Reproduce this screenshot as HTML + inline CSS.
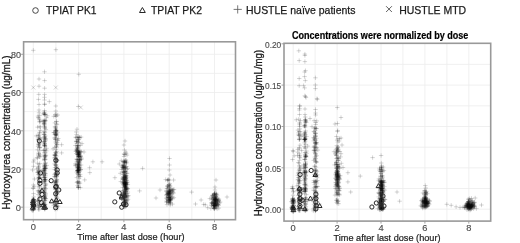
<!DOCTYPE html>
<html><head><meta charset="utf-8"><style>
html,body{margin:0;padding:0;background:#fff;width:520px;height:243px;overflow:hidden}
svg{display:block}
text{font-family:"Liberation Sans",Arial,sans-serif;fill:#1a1a1a}
.lg text{font-size:11px;stroke:#1a1a1a;stroke-width:0.25px}
.tk{font-size:9.3px;fill:#4d4d4d;stroke:#4d4d4d;stroke-width:0.15px}
.at{font-size:9.4px;stroke:#1a1a1a;stroke-width:0.2px}
.yt{font-size:10.3px;stroke-width:0.3px}
.ti{font-size:10.2px;font-weight:bold;fill:#000;stroke:#000;stroke-width:0.2px}
</style></head><body>
<svg width="520" height="243" viewBox="0 0 520 243">
<defs><filter id="b" x="-5%" y="-5%" width="110%" height="110%"><feGaussianBlur stdDeviation="0.45"/></filter></defs>
<rect width="520" height="243" fill="#fff"/>
<g stroke="#ececec" stroke-width="0.8" fill="none">
<path d="M33.3 41.8V219.7"/>
<path d="M55.9 41.8V219.7"/>
<path d="M78.6 41.8V219.7"/>
<path d="M101.2 41.8V219.7"/>
<path d="M123.9 41.8V219.7"/>
<path d="M146.6 41.8V219.7"/>
<path d="M169.2 41.8V219.7"/>
<path d="M191.8 41.8V219.7"/>
<path d="M214.5 41.8V219.7"/>
<path d="M23.6 207.2H235.5"/>
<path d="M23.6 188.1H235.5"/>
<path d="M23.6 169H235.5"/>
<path d="M23.6 149.9H235.5"/>
<path d="M23.6 130.8H235.5"/>
<path d="M23.6 111.6H235.5"/>
<path d="M23.6 92.5H235.5"/>
<path d="M23.6 73.4H235.5"/>
<path d="M23.6 54.3H235.5"/>
<path d="M293.2 43.3V221.1"/>
<path d="M315.1 43.3V221.1"/>
<path d="M337.1 43.3V221.1"/>
<path d="M359 43.3V221.1"/>
<path d="M381 43.3V221.1"/>
<path d="M402.9 43.3V221.1"/>
<path d="M424.9 43.3V221.1"/>
<path d="M446.9 43.3V221.1"/>
<path d="M468.8 43.3V221.1"/>
<path d="M284 209.2H490.7"/>
<path d="M284 188.5H490.7"/>
<path d="M284 167.8H490.7"/>
<path d="M284 147.2H490.7"/>
<path d="M284 126.5H490.7"/>
<path d="M284 105.8H490.7"/>
<path d="M284 85.1H490.7"/>
<path d="M284 64.4H490.7"/>
</g>
<g filter="url(#b)">
<g stroke="#000" stroke-opacity="0.22" stroke-width="0.75" fill="none">
<path d="M31 203.2h4.4M33.2 201v4.4"/>
<path d="M30.9 206h4.4M33.1 203.8v4.4"/>
<path d="M32.1 199.8h4.4M34.3 197.6v4.4"/>
<path d="M31.2 199.9h4.4M33.4 197.7v4.4"/>
<path d="M31.6 204.5h4.4M33.8 202.3v4.4"/>
<path d="M31.6 207.2h4.4M33.8 205v4.4"/>
<path d="M31.3 206.5h4.4M33.5 204.3v4.4"/>
<path d="M31.1 210.2h4.4M33.3 208v4.4"/>
<path d="M30.8 200.9h4.4M33 198.7v4.4"/>
<path d="M32.8 201.3h4.4M35 199.1v4.4"/>
<path d="M30.9 207.3h4.4M33.1 205.1v4.4"/>
<path d="M31 199.8h4.4M33.2 197.6v4.4"/>
<path d="M30.8 207.8h4.4M33 205.6v4.4"/>
<path d="M31.7 204.9h4.4M33.9 202.7v4.4"/>
<path d="M31.1 209.3h4.4M33.3 207.1v4.4"/>
<path d="M32.4 205.8h4.4M34.6 203.6v4.4"/>
<path d="M31.3 208.5h4.4M33.5 206.3v4.4"/>
<path d="M31 204.4h4.4M33.2 202.2v4.4"/>
<path d="M31.8 201h4.4M34 198.8v4.4"/>
<path d="M31.5 208.9h4.4M33.7 206.7v4.4"/>
<path d="M30.9 210.4h4.4M33.1 208.2v4.4"/>
<path d="M30.5 206.5h4.4M32.7 204.3v4.4"/>
<path d="M29.6 209.9h4.4M31.8 207.7v4.4"/>
<path d="M31.3 199.8h4.4M33.5 197.6v4.4"/>
<path d="M31.5 207.4h4.4M33.7 205.2v4.4"/>
<path d="M30.4 204h4.4M32.6 201.8v4.4"/>
<path d="M31.2 199.3h4.4M33.4 197.1v4.4"/>
<path d="M31.5 199.8h4.4M33.7 197.6v4.4"/>
<path d="M30.3 200.7h4.4M32.5 198.5v4.4"/>
<path d="M31.7 200h4.4M33.9 197.8v4.4"/>
<path d="M31.9 206.1h4.4M34.1 203.9v4.4"/>
<path d="M30.2 202.6h4.4M32.4 200.4v4.4"/>
<path d="M31.7 203.7h4.4M33.9 201.5v4.4"/>
<path d="M31 201.3h4.4M33.2 199.1v4.4"/>
<path d="M30.8 202h4.4M33 199.8v4.4"/>
<path d="M30.9 199.1h4.4M33.1 196.9v4.4"/>
<path d="M32.6 203.8h4.4M34.8 201.6v4.4"/>
<path d="M30.7 205.7h4.4M32.9 203.5v4.4"/>
<path d="M31.8 207.8h4.4M34 205.6v4.4"/>
<path d="M30.1 210.4h4.4M32.3 208.2v4.4"/>
<path d="M31.7 204.1h4.4M33.9 201.9v4.4"/>
<path d="M31.5 199.8h4.4M33.7 197.6v4.4"/>
<path d="M31 187.9h4.4M33.2 185.7v4.4"/>
<path d="M31.2 185h4.4M33.4 182.8v4.4"/>
<path d="M32.1 186.4h4.4M34.3 184.2v4.4"/>
<path d="M31.3 193.6h4.4M33.5 191.4v4.4"/>
<path d="M30.9 188.5h4.4M33.1 186.3v4.4"/>
<path d="M31.5 196.9h4.4M33.7 194.7v4.4"/>
<path d="M31.3 166.3h4.4M33.5 164.1v4.4"/>
<path d="M31.2 162h4.4M33.4 159.8v4.4"/>
<path d="M32.3 179h4.4M34.5 176.8v4.4"/>
<path d="M31.1 50.3h4.4M33.3 48.1v4.4"/>
<path d="M53.7 49.7h4.4M55.9 47.5v4.4"/>
<path d="M30.3 170h4.4M32.5 167.8v4.4"/>
<path d="M31.8 160h4.4M34 157.8v4.4"/>
<path d="M36.8 79h4.4M39 76.8v4.4"/>
<path d="M36.8 86.2h4.4M39 84v4.4"/>
<path d="M36.6 94.4h4.4M38.8 92.2v4.4"/>
<path d="M36.3 99.4h4.4M38.5 97.2v4.4"/>
<path d="M36.8 104.5h4.4M39 102.3v4.4"/>
<path d="M36.8 110h4.4M39 107.8v4.4"/>
<path d="M42.3 71.8h4.4M44.5 69.6v4.4"/>
<path d="M42.4 80.6h4.4M44.6 78.4v4.4"/>
<path d="M42.4 88.2h4.4M44.6 86v4.4"/>
<path d="M42.4 94.4h4.4M44.6 92.2v4.4"/>
<path d="M42.3 97.3h4.4M44.5 95.1v4.4"/>
<path d="M42.3 100h4.4M44.5 97.8v4.4"/>
<path d="M42.4 104h4.4M44.6 101.8v4.4"/>
<path d="M42.4 104.5h4.4M44.6 102.3v4.4"/>
<path d="M42.3 110.5h4.4M44.5 108.3v4.4"/>
<path d="M47.1 101.6h4.4M49.3 99.4v4.4"/>
<path d="M53.6 106h4.4M55.8 103.8v4.4"/>
<path d="M53.6 111h4.4M55.8 108.8v4.4"/>
<path d="M37 126.8h4.4M39.2 124.6v4.4"/>
<path d="M35.4 127.2h4.4M37.6 125v4.4"/>
<path d="M36.3 136.2h4.4M38.5 134v4.4"/>
<path d="M37.2 119.3h4.4M39.4 117.1v4.4"/>
<path d="M38.3 126.9h4.4M40.5 124.7v4.4"/>
<path d="M37.3 121.2h4.4M39.5 119v4.4"/>
<path d="M34.1 135.9h4.4M36.3 133.7v4.4"/>
<path d="M37 134.9h4.4M39.2 132.7v4.4"/>
<path d="M37.4 122h4.4M39.6 119.8v4.4"/>
<path d="M36.8 112.8h4.4M39 110.6v4.4"/>
<path d="M37.6 138.8h4.4M39.8 136.6v4.4"/>
<path d="M37.7 138.2h4.4M39.9 136v4.4"/>
<path d="M36.7 118.2h4.4M38.9 116v4.4"/>
<path d="M36 117.5h4.4M38.2 115.3v4.4"/>
<path d="M36 135.5h4.4M38.2 133.3v4.4"/>
<path d="M38.1 130.3h4.4M40.3 128.1v4.4"/>
<path d="M37.5 137.5h4.4M39.7 135.3v4.4"/>
<path d="M37.2 133h4.4M39.4 130.8v4.4"/>
<path d="M38.4 121.3h4.4M40.6 119.1v4.4"/>
<path d="M35.8 139.2h4.4M38 137v4.4"/>
<path d="M37.5 132.3h4.4M39.7 130.1v4.4"/>
<path d="M37.5 115.6h4.4M39.7 113.4v4.4"/>
<path d="M35.8 116.1h4.4M38 113.9v4.4"/>
<path d="M36.1 139.4h4.4M38.3 137.2v4.4"/>
<path d="M37.3 143.9h4.4M39.5 141.7v4.4"/>
<path d="M34.5 169.1h4.4M36.7 166.9v4.4"/>
<path d="M36.4 153h4.4M38.6 150.8v4.4"/>
<path d="M36.8 164.8h4.4M39 162.6v4.4"/>
<path d="M37.6 147.2h4.4M39.8 145v4.4"/>
<path d="M37.5 147.8h4.4M39.7 145.6v4.4"/>
<path d="M37.6 150.6h4.4M39.8 148.4v4.4"/>
<path d="M34.8 157.5h4.4M37 155.3v4.4"/>
<path d="M37.9 155h4.4M40.1 152.8v4.4"/>
<path d="M36.5 155.7h4.4M38.7 153.5v4.4"/>
<path d="M37 140.1h4.4M39.2 137.9v4.4"/>
<path d="M36.7 145.2h4.4M38.9 143v4.4"/>
<path d="M35.5 149.8h4.4M37.7 147.6v4.4"/>
<path d="M37.8 156.7h4.4M40 154.5v4.4"/>
<path d="M37.2 147.5h4.4M39.4 145.3v4.4"/>
<path d="M35.2 163.2h4.4M37.4 161v4.4"/>
<path d="M36.5 167.4h4.4M38.7 165.2v4.4"/>
<path d="M35.3 158.4h4.4M37.5 156.2v4.4"/>
<path d="M36.7 153.6h4.4M38.9 151.4v4.4"/>
<path d="M36.2 154.3h4.4M38.4 152.1v4.4"/>
<path d="M35.8 168.3h4.4M38 166.1v4.4"/>
<path d="M37.1 156.8h4.4M39.3 154.6v4.4"/>
<path d="M36.6 143.6h4.4M38.8 141.4v4.4"/>
<path d="M37.5 142.2h4.4M39.7 140v4.4"/>
<path d="M37.5 163.5h4.4M39.7 161.3v4.4"/>
<path d="M36.5 144.6h4.4M38.7 142.4v4.4"/>
<path d="M36.3 166.5h4.4M38.5 164.3v4.4"/>
<path d="M35.9 146.6h4.4M38.1 144.4v4.4"/>
<path d="M37.5 169.7h4.4M39.7 167.5v4.4"/>
<path d="M36.3 144.8h4.4M38.5 142.6v4.4"/>
<path d="M36.8 175.9h4.4M39 173.7v4.4"/>
<path d="M36.3 191.7h4.4M38.5 189.5v4.4"/>
<path d="M36.6 170.5h4.4M38.8 168.3v4.4"/>
<path d="M39.5 188.7h4.4M41.7 186.5v4.4"/>
<path d="M37.9 193.7h4.4M40.1 191.5v4.4"/>
<path d="M37.6 173.1h4.4M39.8 170.9v4.4"/>
<path d="M37 178.1h4.4M39.2 175.9v4.4"/>
<path d="M37.1 182.7h4.4M39.3 180.5v4.4"/>
<path d="M36.1 174.5h4.4M38.3 172.3v4.4"/>
<path d="M37.1 187.1h4.4M39.3 184.9v4.4"/>
<path d="M36.9 190.6h4.4M39.1 188.4v4.4"/>
<path d="M35.6 172.2h4.4M37.8 170v4.4"/>
<path d="M35.5 172.5h4.4M37.7 170.3v4.4"/>
<path d="M35.9 172h4.4M38.1 169.8v4.4"/>
<path d="M37.1 186.6h4.4M39.3 184.4v4.4"/>
<path d="M36.4 178h4.4M38.6 175.8v4.4"/>
<path d="M36.7 173.3h4.4M38.9 171.1v4.4"/>
<path d="M36.6 171.5h4.4M38.8 169.3v4.4"/>
<path d="M37.2 192.8h4.4M39.4 190.6v4.4"/>
<path d="M36.7 185h4.4M38.9 182.8v4.4"/>
<path d="M36.9 177.5h4.4M39.1 175.3v4.4"/>
<path d="M37.2 192h4.4M39.4 189.8v4.4"/>
<path d="M37.3 198h4.4M39.5 195.8v4.4"/>
<path d="M35.9 194.6h4.4M38.1 192.4v4.4"/>
<path d="M36.9 181.8h4.4M39.1 179.6v4.4"/>
<path d="M35.8 190.6h4.4M38 188.4v4.4"/>
<path d="M38.4 191.2h4.4M40.6 189v4.4"/>
<path d="M37 182.1h4.4M39.2 179.9v4.4"/>
<path d="M37 172.1h4.4M39.2 169.9v4.4"/>
<path d="M37.6 177.7h4.4M39.8 175.5v4.4"/>
<path d="M37.8 196.1h4.4M40 193.9v4.4"/>
<path d="M36.7 178.5h4.4M38.9 176.3v4.4"/>
<path d="M37.3 174.7h4.4M39.5 172.5v4.4"/>
<path d="M38 177.9h4.4M40.2 175.7v4.4"/>
<path d="M36.6 177.3h4.4M38.8 175.1v4.4"/>
<path d="M37.3 203.1h4.4M39.5 200.9v4.4"/>
<path d="M36.8 204.7h4.4M39 202.5v4.4"/>
<path d="M37.6 202h4.4M39.8 199.8v4.4"/>
<path d="M36.8 200.9h4.4M39 198.7v4.4"/>
<path d="M36.7 200.4h4.4M38.9 198.2v4.4"/>
<path d="M37.5 205.9h4.4M39.7 203.7v4.4"/>
<path d="M36.4 207.5h4.4M38.6 205.3v4.4"/>
<path d="M35.8 203.9h4.4M38 201.7v4.4"/>
<path d="M36.7 209.8h4.4M38.9 207.6v4.4"/>
<path d="M35.4 200.4h4.4M37.6 198.2v4.4"/>
<path d="M36.6 208.9h4.4M38.8 206.7v4.4"/>
<path d="M35 201.4h4.4M37.2 199.2v4.4"/>
<path d="M37.4 205h4.4M39.6 202.8v4.4"/>
<path d="M35 205.8h4.4M37.2 203.6v4.4"/>
<path d="M36.8 206.8h4.4M39 204.6v4.4"/>
<path d="M42.6 114.4h4.4M44.8 112.2v4.4"/>
<path d="M41.1 113.9h4.4M43.3 111.7v4.4"/>
<path d="M41.9 123.3h4.4M44.1 121.1v4.4"/>
<path d="M42.7 120.8h4.4M44.9 118.6v4.4"/>
<path d="M40.8 121.1h4.4M43 118.9v4.4"/>
<path d="M42.5 123.9h4.4M44.7 121.7v4.4"/>
<path d="M42.1 113.3h4.4M44.3 111.1v4.4"/>
<path d="M42.4 125.1h4.4M44.6 122.9v4.4"/>
<path d="M41.1 120.9h4.4M43.3 118.7v4.4"/>
<path d="M42.7 120.6h4.4M44.9 118.4v4.4"/>
<path d="M41.8 123.6h4.4M44 121.4v4.4"/>
<path d="M42.5 114.7h4.4M44.7 112.5v4.4"/>
<path d="M42.1 122.2h4.4M44.3 120v4.4"/>
<path d="M42.1 113.1h4.4M44.3 110.9v4.4"/>
<path d="M41.8 124.2h4.4M44 122v4.4"/>
<path d="M42.3 121.3h4.4M44.5 119.1v4.4"/>
<path d="M42.6 128.1h4.4M44.8 125.9v4.4"/>
<path d="M43.7 129.6h4.4M45.9 127.4v4.4"/>
<path d="M42.6 126.8h4.4M44.8 124.6v4.4"/>
<path d="M42.8 120.1h4.4M45 117.9v4.4"/>
<path d="M45.1 115.8h4.4M47.3 113.6v4.4"/>
<path d="M43.1 114.6h4.4M45.3 112.4v4.4"/>
<path d="M42.3 126.8h4.4M44.5 124.6v4.4"/>
<path d="M42.8 128h4.4M45 125.8v4.4"/>
<path d="M43.6 120.8h4.4M45.8 118.6v4.4"/>
<path d="M42.1 112.1h4.4M44.3 109.9v4.4"/>
<path d="M42.6 114.5h4.4M44.8 112.3v4.4"/>
<path d="M44.3 117.7h4.4M46.5 115.5v4.4"/>
<path d="M42.5 163.6h4.4M44.7 161.4v4.4"/>
<path d="M43.2 167.1h4.4M45.4 164.9v4.4"/>
<path d="M42.3 144.9h4.4M44.5 142.7v4.4"/>
<path d="M41.8 170h4.4M44 167.8v4.4"/>
<path d="M42.9 141h4.4M45.1 138.8v4.4"/>
<path d="M41.9 134.1h4.4M44.1 131.9v4.4"/>
<path d="M43.6 140h4.4M45.8 137.8v4.4"/>
<path d="M41.6 150.4h4.4M43.8 148.2v4.4"/>
<path d="M44.5 165.4h4.4M46.7 163.2v4.4"/>
<path d="M43.8 155.2h4.4M46 153v4.4"/>
<path d="M42.3 158.8h4.4M44.5 156.6v4.4"/>
<path d="M42.5 159.3h4.4M44.7 157.1v4.4"/>
<path d="M41.8 141.4h4.4M44 139.2v4.4"/>
<path d="M42 167.1h4.4M44.2 164.9v4.4"/>
<path d="M42.7 141.9h4.4M44.9 139.7v4.4"/>
<path d="M42.3 169.1h4.4M44.5 166.9v4.4"/>
<path d="M42.1 152.3h4.4M44.3 150.1v4.4"/>
<path d="M42.8 136.7h4.4M45 134.5v4.4"/>
<path d="M43.5 149.9h4.4M45.7 147.7v4.4"/>
<path d="M41.9 166.3h4.4M44.1 164.1v4.4"/>
<path d="M42.6 137.7h4.4M44.8 135.5v4.4"/>
<path d="M42.5 143.7h4.4M44.7 141.5v4.4"/>
<path d="M43.3 152.8h4.4M45.5 150.6v4.4"/>
<path d="M42 160h4.4M44.2 157.8v4.4"/>
<path d="M42.8 145.1h4.4M45 142.9v4.4"/>
<path d="M42.8 132.5h4.4M45 130.3v4.4"/>
<path d="M42.4 150.1h4.4M44.6 147.9v4.4"/>
<path d="M42.5 164.5h4.4M44.7 162.3v4.4"/>
<path d="M42.9 146h4.4M45.1 143.8v4.4"/>
<path d="M42.7 168.2h4.4M44.9 166v4.4"/>
<path d="M42.3 131.3h4.4M44.5 129.1v4.4"/>
<path d="M42.5 165.8h4.4M44.7 163.6v4.4"/>
<path d="M42.5 145.7h4.4M44.7 143.5v4.4"/>
<path d="M43.3 163h4.4M45.5 160.8v4.4"/>
<path d="M42.4 134.4h4.4M44.6 132.2v4.4"/>
<path d="M44.1 150.9h4.4M46.3 148.7v4.4"/>
<path d="M41.9 155.9h4.4M44.1 153.7v4.4"/>
<path d="M44.4 148.3h4.4M46.6 146.1v4.4"/>
<path d="M43 139.3h4.4M45.2 137.1v4.4"/>
<path d="M42.8 155.8h4.4M45 153.6v4.4"/>
<path d="M43.1 155.5h4.4M45.3 153.3v4.4"/>
<path d="M41.8 134.5h4.4M44 132.3v4.4"/>
<path d="M42.4 145.5h4.4M44.6 143.3v4.4"/>
<path d="M42.3 154h4.4M44.5 151.8v4.4"/>
<path d="M43.7 168.4h4.4M45.9 166.2v4.4"/>
<path d="M42.5 165.4h4.4M44.7 163.2v4.4"/>
<path d="M43.3 168.4h4.4M45.5 166.2v4.4"/>
<path d="M41.8 142.3h4.4M44 140.1v4.4"/>
<path d="M42.5 146.8h4.4M44.7 144.6v4.4"/>
<path d="M42.5 156.7h4.4M44.7 154.5v4.4"/>
<path d="M42.6 143.5h4.4M44.8 141.3v4.4"/>
<path d="M42.7 157.3h4.4M44.9 155.1v4.4"/>
<path d="M41.7 150.2h4.4M43.9 148v4.4"/>
<path d="M42.7 168.8h4.4M44.9 166.6v4.4"/>
<path d="M41.8 138.9h4.4M44 136.7v4.4"/>
<path d="M41.8 141.8h4.4M44 139.6v4.4"/>
<path d="M42.5 138.9h4.4M44.7 136.7v4.4"/>
<path d="M43.2 156.6h4.4M45.4 154.4v4.4"/>
<path d="M43.4 138.5h4.4M45.6 136.3v4.4"/>
<path d="M43 135.7h4.4M45.2 133.5v4.4"/>
<path d="M42.9 165.9h4.4M45.1 163.7v4.4"/>
<path d="M43.4 159.3h4.4M45.6 157.1v4.4"/>
<path d="M42.1 137.4h4.4M44.3 135.2v4.4"/>
<path d="M42.3 159.9h4.4M44.5 157.7v4.4"/>
<path d="M42.1 145h4.4M44.3 142.8v4.4"/>
<path d="M42.4 136.8h4.4M44.6 134.6v4.4"/>
<path d="M43 168.2h4.4M45.2 166v4.4"/>
<path d="M41.9 168.6h4.4M44.1 166.4v4.4"/>
<path d="M43.2 162.9h4.4M45.4 160.7v4.4"/>
<path d="M41.7 132h4.4M43.9 129.8v4.4"/>
<path d="M43.3 175.8h4.4M45.5 173.6v4.4"/>
<path d="M41.7 196.9h4.4M43.9 194.7v4.4"/>
<path d="M43 193h4.4M45.2 190.8v4.4"/>
<path d="M42.8 171h4.4M45 168.8v4.4"/>
<path d="M42.1 192.4h4.4M44.3 190.2v4.4"/>
<path d="M43.2 180.2h4.4M45.4 178v4.4"/>
<path d="M42.1 177.9h4.4M44.3 175.7v4.4"/>
<path d="M43.3 179.5h4.4M45.5 177.3v4.4"/>
<path d="M42.5 197.5h4.4M44.7 195.3v4.4"/>
<path d="M42.6 198.3h4.4M44.8 196.1v4.4"/>
<path d="M43.7 198.7h4.4M45.9 196.5v4.4"/>
<path d="M42 181.6h4.4M44.2 179.4v4.4"/>
<path d="M42.7 197.8h4.4M44.9 195.6v4.4"/>
<path d="M43.3 194.1h4.4M45.5 191.9v4.4"/>
<path d="M41.7 188.2h4.4M43.9 186v4.4"/>
<path d="M42.5 179.6h4.4M44.7 177.4v4.4"/>
<path d="M42.1 175.9h4.4M44.3 173.7v4.4"/>
<path d="M43.1 177.4h4.4M45.3 175.2v4.4"/>
<path d="M42.8 179.8h4.4M45 177.6v4.4"/>
<path d="M42.5 196.5h4.4M44.7 194.3v4.4"/>
<path d="M42.7 172.9h4.4M44.9 170.7v4.4"/>
<path d="M42.6 191.3h4.4M44.8 189.1v4.4"/>
<path d="M43.6 188.6h4.4M45.8 186.4v4.4"/>
<path d="M42.2 192.4h4.4M44.4 190.2v4.4"/>
<path d="M42.3 195.2h4.4M44.5 193v4.4"/>
<path d="M42.5 187h4.4M44.7 184.8v4.4"/>
<path d="M42.2 177.4h4.4M44.4 175.2v4.4"/>
<path d="M41.6 174.6h4.4M43.8 172.4v4.4"/>
<path d="M42 181.9h4.4M44.2 179.7v4.4"/>
<path d="M42.8 185.2h4.4M45 183v4.4"/>
<path d="M41.8 199.7h4.4M44 197.5v4.4"/>
<path d="M43.8 184.2h4.4M46 182v4.4"/>
<path d="M41.6 171.2h4.4M43.8 169v4.4"/>
<path d="M43.2 173.6h4.4M45.4 171.4v4.4"/>
<path d="M42.4 197.9h4.4M44.6 195.7v4.4"/>
<path d="M42.4 196h4.4M44.6 193.8v4.4"/>
<path d="M43.4 198.4h4.4M45.6 196.2v4.4"/>
<path d="M42.7 187.9h4.4M44.9 185.7v4.4"/>
<path d="M43 174.2h4.4M45.2 172v4.4"/>
<path d="M42.1 177.6h4.4M44.3 175.4v4.4"/>
<path d="M42.2 170.3h4.4M44.4 168.1v4.4"/>
<path d="M42.4 190.3h4.4M44.6 188.1v4.4"/>
<path d="M43.2 193.9h4.4M45.4 191.7v4.4"/>
<path d="M42 171.9h4.4M44.2 169.7v4.4"/>
<path d="M42.9 189.2h4.4M45.1 187v4.4"/>
<path d="M41.7 174.9h4.4M43.9 172.7v4.4"/>
<path d="M43 179.2h4.4M45.2 177v4.4"/>
<path d="M41.8 179.4h4.4M44 177.2v4.4"/>
<path d="M43.4 195.9h4.4M45.6 193.7v4.4"/>
<path d="M42.5 180.9h4.4M44.7 178.7v4.4"/>
<path d="M41.8 170.2h4.4M44 168v4.4"/>
<path d="M40.6 182.7h4.4M42.8 180.5v4.4"/>
<path d="M43.1 183.8h4.4M45.3 181.6v4.4"/>
<path d="M41 170.4h4.4M43.2 168.2v4.4"/>
<path d="M40.6 172.7h4.4M42.8 170.5v4.4"/>
<path d="M43 181.1h4.4M45.2 178.9v4.4"/>
<path d="M43.2 185.6h4.4M45.4 183.4v4.4"/>
<path d="M42.9 173.3h4.4M45.1 171.1v4.4"/>
<path d="M41.3 175.9h4.4M43.5 173.7v4.4"/>
<path d="M42.1 198.3h4.4M44.3 196.1v4.4"/>
<path d="M42.5 209.3h4.4M44.7 207.1v4.4"/>
<path d="M42.8 209h4.4M45 206.8v4.4"/>
<path d="M42.2 207.9h4.4M44.4 205.7v4.4"/>
<path d="M42.8 204h4.4M45 201.8v4.4"/>
<path d="M42.2 202.2h4.4M44.4 200v4.4"/>
<path d="M42.8 205.2h4.4M45 203v4.4"/>
<path d="M43.1 207.2h4.4M45.3 205v4.4"/>
<path d="M42.5 200.4h4.4M44.7 198.2v4.4"/>
<path d="M42.4 208.4h4.4M44.6 206.2v4.4"/>
<path d="M41.8 206h4.4M44 203.8v4.4"/>
<path d="M41.8 204.2h4.4M44 202v4.4"/>
<path d="M41.4 204.3h4.4M43.6 202.1v4.4"/>
<path d="M42.9 200.2h4.4M45.1 198v4.4"/>
<path d="M42.6 204.9h4.4M44.8 202.7v4.4"/>
<path d="M41.6 204.6h4.4M43.8 202.4v4.4"/>
<path d="M42.9 204.7h4.4M45.1 202.5v4.4"/>
<path d="M42.9 200.9h4.4M45.1 198.7v4.4"/>
<path d="M42.4 205.1h4.4M44.6 202.9v4.4"/>
<path d="M42.2 207.3h4.4M44.4 205.1v4.4"/>
<path d="M42 205.1h4.4M44.2 202.9v4.4"/>
<path d="M53.8 129.2h4.4M56 127v4.4"/>
<path d="M53.6 127.6h4.4M55.8 125.4v4.4"/>
<path d="M51.6 116.3h4.4M53.8 114.1v4.4"/>
<path d="M54.4 121.4h4.4M56.6 119.2v4.4"/>
<path d="M53.4 126.4h4.4M55.6 124.2v4.4"/>
<path d="M53.8 114.1h4.4M56 111.9v4.4"/>
<path d="M53.5 128.2h4.4M55.7 126v4.4"/>
<path d="M52.7 126.9h4.4M54.9 124.7v4.4"/>
<path d="M53.8 116.5h4.4M56 114.3v4.4"/>
<path d="M54.1 121.6h4.4M56.3 119.4v4.4"/>
<path d="M54 115.7h4.4M56.2 113.5v4.4"/>
<path d="M54.8 124.6h4.4M57 122.4v4.4"/>
<path d="M55.6 115h4.4M57.8 112.8v4.4"/>
<path d="M54.2 123.8h4.4M56.4 121.6v4.4"/>
<path d="M52.7 122.9h4.4M54.9 120.7v4.4"/>
<path d="M53 114.8h4.4M55.2 112.6v4.4"/>
<path d="M53.4 161.9h4.4M55.6 159.7v4.4"/>
<path d="M52.5 169.6h4.4M54.7 167.4v4.4"/>
<path d="M54.5 147.7h4.4M56.7 145.5v4.4"/>
<path d="M54 159.7h4.4M56.2 157.5v4.4"/>
<path d="M53 155.6h4.4M55.2 153.4v4.4"/>
<path d="M53.8 153.4h4.4M56 151.2v4.4"/>
<path d="M53.8 131.4h4.4M56 129.2v4.4"/>
<path d="M52.7 154.6h4.4M54.9 152.4v4.4"/>
<path d="M53.7 135.3h4.4M55.9 133.1v4.4"/>
<path d="M54.3 156.1h4.4M56.5 153.9v4.4"/>
<path d="M53.8 134.3h4.4M56 132.1v4.4"/>
<path d="M53.1 139h4.4M55.3 136.8v4.4"/>
<path d="M53.6 155h4.4M55.8 152.8v4.4"/>
<path d="M53.8 135.4h4.4M56 133.2v4.4"/>
<path d="M54.5 133.8h4.4M56.7 131.6v4.4"/>
<path d="M53 164.9h4.4M55.2 162.7v4.4"/>
<path d="M54.3 130.5h4.4M56.5 128.3v4.4"/>
<path d="M53.5 152.5h4.4M55.7 150.3v4.4"/>
<path d="M52.8 167.5h4.4M55 165.3v4.4"/>
<path d="M55.2 139.9h4.4M57.4 137.7v4.4"/>
<path d="M54 146.2h4.4M56.2 144v4.4"/>
<path d="M55.3 132.3h4.4M57.5 130.1v4.4"/>
<path d="M53.8 167.6h4.4M56 165.4v4.4"/>
<path d="M52.1 138h4.4M54.3 135.8v4.4"/>
<path d="M53.8 162.5h4.4M56 160.3v4.4"/>
<path d="M54.8 142.4h4.4M57 140.2v4.4"/>
<path d="M54.6 161.3h4.4M56.8 159.1v4.4"/>
<path d="M53.8 130.3h4.4M56 128.1v4.4"/>
<path d="M53.2 159.7h4.4M55.4 157.5v4.4"/>
<path d="M53.8 139h4.4M56 136.8v4.4"/>
<path d="M54.1 143.4h4.4M56.3 141.2v4.4"/>
<path d="M53.6 157.8h4.4M55.8 155.6v4.4"/>
<path d="M53.4 152.2h4.4M55.6 150v4.4"/>
<path d="M53.6 161.5h4.4M55.8 159.3v4.4"/>
<path d="M54.5 168.6h4.4M56.7 166.4v4.4"/>
<path d="M53.8 165.2h4.4M56 163v4.4"/>
<path d="M54.7 159.8h4.4M56.9 157.6v4.4"/>
<path d="M54.1 159.8h4.4M56.3 157.6v4.4"/>
<path d="M53.1 139.6h4.4M55.3 137.4v4.4"/>
<path d="M52.1 155.2h4.4M54.3 153v4.4"/>
<path d="M50.9 148.8h4.4M53.1 146.6v4.4"/>
<path d="M52 157.9h4.4M54.2 155.7v4.4"/>
<path d="M54.1 152.8h4.4M56.3 150.6v4.4"/>
<path d="M56.1 138.5h4.4M58.3 136.3v4.4"/>
<path d="M54.3 135.8h4.4M56.5 133.6v4.4"/>
<path d="M53.4 134.3h4.4M55.6 132.1v4.4"/>
<path d="M54 131.1h4.4M56.2 128.9v4.4"/>
<path d="M53.2 157.7h4.4M55.4 155.5v4.4"/>
<path d="M51.9 132.6h4.4M54.1 130.4v4.4"/>
<path d="M54.9 144.5h4.4M57.1 142.3v4.4"/>
<path d="M51.5 132.6h4.4M53.7 130.4v4.4"/>
<path d="M54.4 166.6h4.4M56.6 164.4v4.4"/>
<path d="M54 134.5h4.4M56.2 132.3v4.4"/>
<path d="M52.3 163.9h4.4M54.5 161.7v4.4"/>
<path d="M53.1 155.3h4.4M55.3 153.1v4.4"/>
<path d="M53.8 134h4.4M56 131.8v4.4"/>
<path d="M53.5 142.8h4.4M55.7 140.6v4.4"/>
<path d="M53.6 130.8h4.4M55.8 128.6v4.4"/>
<path d="M54.6 144.7h4.4M56.8 142.5v4.4"/>
<path d="M54.8 168.6h4.4M57 166.4v4.4"/>
<path d="M53.2 131.2h4.4M55.4 129v4.4"/>
<path d="M52.7 147.5h4.4M54.9 145.3v4.4"/>
<path d="M54.4 151.5h4.4M56.6 149.3v4.4"/>
<path d="M53.9 164.5h4.4M56.1 162.3v4.4"/>
<path d="M53.5 130.1h4.4M55.7 127.9v4.4"/>
<path d="M55.2 160.5h4.4M57.4 158.3v4.4"/>
<path d="M53.8 149.7h4.4M56 147.5v4.4"/>
<path d="M53.3 137.4h4.4M55.5 135.2v4.4"/>
<path d="M55.7 140.4h4.4M57.9 138.2v4.4"/>
<path d="M53.6 141.3h4.4M55.8 139.1v4.4"/>
<path d="M52.5 134.4h4.4M54.7 132.2v4.4"/>
<path d="M53.1 133.2h4.4M55.3 131v4.4"/>
<path d="M53 155.1h4.4M55.2 152.9v4.4"/>
<path d="M54 146.1h4.4M56.2 143.9v4.4"/>
<path d="M53.7 165.5h4.4M55.9 163.3v4.4"/>
<path d="M54.3 176.2h4.4M56.5 174v4.4"/>
<path d="M53 181.4h4.4M55.2 179.2v4.4"/>
<path d="M53 177h4.4M55.2 174.8v4.4"/>
<path d="M53.4 192.6h4.4M55.6 190.4v4.4"/>
<path d="M54.3 180.5h4.4M56.5 178.3v4.4"/>
<path d="M55.7 189.9h4.4M57.9 187.7v4.4"/>
<path d="M53.9 175.1h4.4M56.1 172.9v4.4"/>
<path d="M53.1 173.8h4.4M55.3 171.6v4.4"/>
<path d="M54 196.6h4.4M56.2 194.4v4.4"/>
<path d="M54.7 191.1h4.4M56.9 188.9v4.4"/>
<path d="M53.8 174.6h4.4M56 172.4v4.4"/>
<path d="M54.2 185.7h4.4M56.4 183.5v4.4"/>
<path d="M54.6 179.8h4.4M56.8 177.6v4.4"/>
<path d="M53.5 173.1h4.4M55.7 170.9v4.4"/>
<path d="M54.7 173h4.4M56.9 170.8v4.4"/>
<path d="M53.7 192h4.4M55.9 189.8v4.4"/>
<path d="M54.4 175.9h4.4M56.6 173.7v4.4"/>
<path d="M54 181.7h4.4M56.2 179.5v4.4"/>
<path d="M53.3 182h4.4M55.5 179.8v4.4"/>
<path d="M53.2 189h4.4M55.4 186.8v4.4"/>
<path d="M52.2 174.3h4.4M54.4 172.1v4.4"/>
<path d="M54.3 197.2h4.4M56.5 195v4.4"/>
<path d="M53 187.2h4.4M55.2 185v4.4"/>
<path d="M54.2 191.7h4.4M56.4 189.5v4.4"/>
<path d="M54.9 193.2h4.4M57.1 191v4.4"/>
<path d="M53.2 189.2h4.4M55.4 187v4.4"/>
<path d="M54.8 179.4h4.4M57 177.2v4.4"/>
<path d="M54.5 193.5h4.4M56.7 191.3v4.4"/>
<path d="M53.3 188.9h4.4M55.5 186.7v4.4"/>
<path d="M54.1 188.6h4.4M56.3 186.4v4.4"/>
<path d="M54.5 190.3h4.4M56.7 188.1v4.4"/>
<path d="M54.5 193.3h4.4M56.7 191.1v4.4"/>
<path d="M55.3 184.7h4.4M57.5 182.5v4.4"/>
<path d="M54.2 174.8h4.4M56.4 172.6v4.4"/>
<path d="M55.1 198.2h4.4M57.3 196v4.4"/>
<path d="M54.7 186.2h4.4M56.9 184v4.4"/>
<path d="M54.5 185.4h4.4M56.7 183.2v4.4"/>
<path d="M52.5 182.3h4.4M54.7 180.1v4.4"/>
<path d="M52.2 176.3h4.4M54.4 174.1v4.4"/>
<path d="M55.1 173.7h4.4M57.3 171.5v4.4"/>
<path d="M53.7 180.7h4.4M55.9 178.5v4.4"/>
<path d="M54.3 170.4h4.4M56.5 168.2v4.4"/>
<path d="M53.2 182.6h4.4M55.4 180.4v4.4"/>
<path d="M54.6 176.7h4.4M56.8 174.5v4.4"/>
<path d="M54.2 198.2h4.4M56.4 196v4.4"/>
<path d="M54.7 181.8h4.4M56.9 179.6v4.4"/>
<path d="M54.4 173.9h4.4M56.6 171.7v4.4"/>
<path d="M52.2 184.1h4.4M54.4 181.9v4.4"/>
<path d="M52.8 176.8h4.4M55 174.6v4.4"/>
<path d="M55.2 194.6h4.4M57.4 192.4v4.4"/>
<path d="M53.6 184h4.4M55.8 181.8v4.4"/>
<path d="M53.7 195h4.4M55.9 192.8v4.4"/>
<path d="M53.5 195.5h4.4M55.7 193.3v4.4"/>
<path d="M54.1 182.8h4.4M56.3 180.6v4.4"/>
<path d="M53.6 170.1h4.4M55.8 167.9v4.4"/>
<path d="M54.2 203h4.4M56.4 200.8v4.4"/>
<path d="M53.2 204.3h4.4M55.4 202.1v4.4"/>
<path d="M52.8 209.3h4.4M55 207.1v4.4"/>
<path d="M55.5 200.6h4.4M57.7 198.4v4.4"/>
<path d="M52.6 201.4h4.4M54.8 199.2v4.4"/>
<path d="M55 206.3h4.4M57.2 204.1v4.4"/>
<path d="M53.9 206.6h4.4M56.1 204.4v4.4"/>
<path d="M53.9 201h4.4M56.1 198.8v4.4"/>
<path d="M54.7 203.5h4.4M56.9 201.3v4.4"/>
<path d="M55 209h4.4M57.2 206.8v4.4"/>
<path d="M56 206.1h4.4M58.2 203.9v4.4"/>
<path d="M54.3 206.7h4.4M56.5 204.5v4.4"/>
<path d="M51.6 202h4.4M53.8 199.8v4.4"/>
<path d="M51.5 205.3h4.4M53.7 203.1v4.4"/>
<path d="M54.2 205.6h4.4M56.4 203.4v4.4"/>
<path d="M53.6 202.3h4.4M55.8 200.1v4.4"/>
<path d="M53.8 204.7h4.4M56 202.5v4.4"/>
<path d="M52.8 204.9h4.4M55 202.7v4.4"/>
<path d="M53.2 200.1h4.4M55.4 197.9v4.4"/>
<path d="M52.6 204.7h4.4M54.8 202.5v4.4"/>
<path d="M74 132h4.4M76.2 129.8v4.4"/>
<path d="M75.7 136.7h4.4M77.9 134.5v4.4"/>
<path d="M74.8 129.2h4.4M77 127v4.4"/>
<path d="M74.4 134.5h4.4M76.6 132.3v4.4"/>
<path d="M79.8 143.6h4.4M82 141.4v4.4"/>
<path d="M76.1 148.7h4.4M78.3 146.5v4.4"/>
<path d="M74.4 141.4h4.4M76.6 139.2v4.4"/>
<path d="M73.9 141.8h4.4M76.1 139.6v4.4"/>
<path d="M75.9 139.7h4.4M78.1 137.5v4.4"/>
<path d="M76.8 142.5h4.4M79 140.3v4.4"/>
<path d="M75.3 147.8h4.4M77.5 145.6v4.4"/>
<path d="M74.7 143.5h4.4M76.9 141.3v4.4"/>
<path d="M76.1 145.5h4.4M78.3 143.3v4.4"/>
<path d="M75.7 141.3h4.4M77.9 139.1v4.4"/>
<path d="M78.1 145.3h4.4M80.3 143.1v4.4"/>
<path d="M77.6 137.5h4.4M79.8 135.3v4.4"/>
<path d="M75.1 137.6h4.4M77.3 135.4v4.4"/>
<path d="M77 137.1h4.4M79.2 134.9v4.4"/>
<path d="M75.4 145.6h4.4M77.6 143.4v4.4"/>
<path d="M74.8 148.8h4.4M77 146.6v4.4"/>
<path d="M75 146.1h4.4M77.2 143.9v4.4"/>
<path d="M76 145.9h4.4M78.2 143.7v4.4"/>
<path d="M75.7 146.9h4.4M77.9 144.7v4.4"/>
<path d="M76.5 139.4h4.4M78.7 137.2v4.4"/>
<path d="M73.2 145.5h4.4M75.4 143.3v4.4"/>
<path d="M75.3 147.7h4.4M77.5 145.5v4.4"/>
<path d="M75.9 140.9h4.4M78.1 138.7v4.4"/>
<path d="M74.2 141.1h4.4M76.4 138.9v4.4"/>
<path d="M73.8 137.7h4.4M76 135.5v4.4"/>
<path d="M76.6 137.5h4.4M78.8 135.3v4.4"/>
<path d="M74.6 148.9h4.4M76.8 146.7v4.4"/>
<path d="M73.5 137.2h4.4M75.7 135v4.4"/>
<path d="M74.5 149.8h4.4M76.7 147.6v4.4"/>
<path d="M76 142.4h4.4M78.2 140.2v4.4"/>
<path d="M76 139h4.4M78.2 136.8v4.4"/>
<path d="M78.9 137.1h4.4M81.1 134.9v4.4"/>
<path d="M78.8 152.2h4.4M81 150v4.4"/>
<path d="M76.2 153.2h4.4M78.4 151v4.4"/>
<path d="M75.9 168.3h4.4M78.1 166.1v4.4"/>
<path d="M75.7 151.3h4.4M77.9 149.1v4.4"/>
<path d="M75.2 168.2h4.4M77.4 166v4.4"/>
<path d="M73.1 165.7h4.4M75.3 163.5v4.4"/>
<path d="M77.1 156.4h4.4M79.3 154.2v4.4"/>
<path d="M77.2 167.9h4.4M79.4 165.7v4.4"/>
<path d="M76.4 170.4h4.4M78.6 168.2v4.4"/>
<path d="M77.7 157.8h4.4M79.9 155.6v4.4"/>
<path d="M77.3 162.2h4.4M79.5 160v4.4"/>
<path d="M74.3 159.2h4.4M76.5 157v4.4"/>
<path d="M77.1 153.6h4.4M79.3 151.4v4.4"/>
<path d="M75.3 159.1h4.4M77.5 156.9v4.4"/>
<path d="M75.2 159.6h4.4M77.4 157.4v4.4"/>
<path d="M75.2 173.6h4.4M77.4 171.4v4.4"/>
<path d="M75.8 151.5h4.4M78 149.3v4.4"/>
<path d="M75.4 167.6h4.4M77.6 165.4v4.4"/>
<path d="M78 174.4h4.4M80.2 172.2v4.4"/>
<path d="M73.7 165h4.4M75.9 162.8v4.4"/>
<path d="M77.6 159.4h4.4M79.8 157.2v4.4"/>
<path d="M76.7 165h4.4M78.9 162.8v4.4"/>
<path d="M75.8 150h4.4M78 147.8v4.4"/>
<path d="M77.5 160.6h4.4M79.7 158.4v4.4"/>
<path d="M73.6 151.1h4.4M75.8 148.9v4.4"/>
<path d="M75.3 170.3h4.4M77.5 168.1v4.4"/>
<path d="M75.8 171.3h4.4M78 169.1v4.4"/>
<path d="M76 167.1h4.4M78.2 164.9v4.4"/>
<path d="M76.8 163.8h4.4M79 161.6v4.4"/>
<path d="M77.2 155h4.4M79.4 152.8v4.4"/>
<path d="M75.9 165.2h4.4M78.1 163v4.4"/>
<path d="M76.3 161.6h4.4M78.5 159.4v4.4"/>
<path d="M78.6 169.8h4.4M80.8 167.6v4.4"/>
<path d="M76.4 152.2h4.4M78.6 150v4.4"/>
<path d="M75.3 164.5h4.4M77.5 162.3v4.4"/>
<path d="M74.5 172.1h4.4M76.7 169.9v4.4"/>
<path d="M76.4 154.7h4.4M78.6 152.5v4.4"/>
<path d="M75.1 154.5h4.4M77.3 152.3v4.4"/>
<path d="M77.7 160.1h4.4M79.9 157.9v4.4"/>
<path d="M76.9 153.7h4.4M79.1 151.5v4.4"/>
<path d="M76.3 152.7h4.4M78.5 150.5v4.4"/>
<path d="M75.8 169.7h4.4M78 167.5v4.4"/>
<path d="M76 163h4.4M78.2 160.8v4.4"/>
<path d="M77.4 150.8h4.4M79.6 148.6v4.4"/>
<path d="M75.8 164.2h4.4M78 162v4.4"/>
<path d="M78.6 169.5h4.4M80.8 167.3v4.4"/>
<path d="M75.5 170.5h4.4M77.7 168.3v4.4"/>
<path d="M76.4 156.3h4.4M78.6 154.1v4.4"/>
<path d="M76.7 152.1h4.4M78.9 149.9v4.4"/>
<path d="M73 163.9h4.4M75.2 161.7v4.4"/>
<path d="M76.7 172.7h4.4M78.9 170.5v4.4"/>
<path d="M78.9 165h4.4M81.1 162.8v4.4"/>
<path d="M78.7 156.4h4.4M80.9 154.2v4.4"/>
<path d="M75.6 166h4.4M77.8 163.8v4.4"/>
<path d="M75.8 161.2h4.4M78 159v4.4"/>
<path d="M76.4 174.1h4.4M78.6 171.9v4.4"/>
<path d="M76.7 156.4h4.4M78.9 154.2v4.4"/>
<path d="M76.5 172.6h4.4M78.7 170.4v4.4"/>
<path d="M75.9 169.7h4.4M78.1 167.5v4.4"/>
<path d="M77 166.2h4.4M79.2 164v4.4"/>
<path d="M76.6 168.9h4.4M78.8 166.7v4.4"/>
<path d="M75.5 166.9h4.4M77.7 164.7v4.4"/>
<path d="M75 152.6h4.4M77.2 150.4v4.4"/>
<path d="M75.9 156.4h4.4M78.1 154.2v4.4"/>
<path d="M76.3 156h4.4M78.5 153.8v4.4"/>
<path d="M76.2 166.9h4.4M78.4 164.7v4.4"/>
<path d="M75.4 150.9h4.4M77.6 148.7v4.4"/>
<path d="M78.3 155.5h4.4M80.5 153.3v4.4"/>
<path d="M74.1 153.5h4.4M76.3 151.3v4.4"/>
<path d="M77.4 152.4h4.4M79.6 150.2v4.4"/>
<path d="M74.7 161.3h4.4M76.9 159.1v4.4"/>
<path d="M75.8 170.6h4.4M78 168.4v4.4"/>
<path d="M76.1 155.5h4.4M78.3 153.3v4.4"/>
<path d="M78 167.8h4.4M80.2 165.6v4.4"/>
<path d="M78.5 156.7h4.4M80.7 154.5v4.4"/>
<path d="M76.6 153.9h4.4M78.8 151.7v4.4"/>
<path d="M75.2 154.2h4.4M77.4 152v4.4"/>
<path d="M79.2 158h4.4M81.4 155.8v4.4"/>
<path d="M78.9 151.4h4.4M81.1 149.2v4.4"/>
<path d="M75.8 166.7h4.4M78 164.5v4.4"/>
<path d="M76.4 156.4h4.4M78.6 154.2v4.4"/>
<path d="M79.5 159.1h4.4M81.7 156.9v4.4"/>
<path d="M76.3 152.4h4.4M78.5 150.2v4.4"/>
<path d="M76.2 172.4h4.4M78.4 170.2v4.4"/>
<path d="M75.8 174.5h4.4M78 172.3v4.4"/>
<path d="M76.4 170.2h4.4M78.6 168v4.4"/>
<path d="M76.4 170.8h4.4M78.6 168.6v4.4"/>
<path d="M77.1 154.6h4.4M79.3 152.4v4.4"/>
<path d="M76.1 164.3h4.4M78.3 162.1v4.4"/>
<path d="M76.1 154.5h4.4M78.3 152.3v4.4"/>
<path d="M75.9 152h4.4M78.1 149.8v4.4"/>
<path d="M76.2 165.2h4.4M78.4 163v4.4"/>
<path d="M77.2 165.3h4.4M79.4 163.1v4.4"/>
<path d="M76.5 170.3h4.4M78.7 168.1v4.4"/>
<path d="M76.8 168.3h4.4M79 166.1v4.4"/>
<path d="M76.5 168h4.4M78.7 165.8v4.4"/>
<path d="M75.1 171h4.4M77.3 168.8v4.4"/>
<path d="M76.9 162.3h4.4M79.1 160.1v4.4"/>
<path d="M75.9 171.8h4.4M78.1 169.6v4.4"/>
<path d="M75.7 154.7h4.4M77.9 152.5v4.4"/>
<path d="M76.9 159.3h4.4M79.1 157.1v4.4"/>
<path d="M74.7 150.1h4.4M76.9 147.9v4.4"/>
<path d="M76.9 153h4.4M79.1 150.8v4.4"/>
<path d="M75.3 170.4h4.4M77.5 168.2v4.4"/>
<path d="M78.3 159.5h4.4M80.5 157.3v4.4"/>
<path d="M77.9 151.5h4.4M80.1 149.3v4.4"/>
<path d="M75.8 162.8h4.4M78 160.6v4.4"/>
<path d="M76.7 163.4h4.4M78.9 161.2v4.4"/>
<path d="M76.2 154.6h4.4M78.4 152.4v4.4"/>
<path d="M76.9 156.3h4.4M79.1 154.1v4.4"/>
<path d="M76.4 167.5h4.4M78.6 165.3v4.4"/>
<path d="M74.8 150.4h4.4M77 148.2v4.4"/>
<path d="M76 167.6h4.4M78.2 165.4v4.4"/>
<path d="M77 171.7h4.4M79.2 169.5v4.4"/>
<path d="M76.5 162.3h4.4M78.7 160.1v4.4"/>
<path d="M76 157h4.4M78.2 154.8v4.4"/>
<path d="M76.7 164.8h4.4M78.9 162.6v4.4"/>
<path d="M76.3 153.7h4.4M78.5 151.5v4.4"/>
<path d="M75.5 170.7h4.4M77.7 168.5v4.4"/>
<path d="M77.2 159.7h4.4M79.4 157.5v4.4"/>
<path d="M74.9 159.9h4.4M77.1 157.7v4.4"/>
<path d="M76.4 169.4h4.4M78.6 167.2v4.4"/>
<path d="M77.6 160.9h4.4M79.8 158.7v4.4"/>
<path d="M77.4 170.1h4.4M79.6 167.9v4.4"/>
<path d="M73.8 151.3h4.4M76 149.1v4.4"/>
<path d="M76.3 187.5h4.4M78.5 185.3v4.4"/>
<path d="M77.8 183.2h4.4M80 181v4.4"/>
<path d="M75.7 181.9h4.4M77.9 179.7v4.4"/>
<path d="M76.6 175.3h4.4M78.8 173.1v4.4"/>
<path d="M78.1 187.6h4.4M80.3 185.4v4.4"/>
<path d="M75.5 185.5h4.4M77.7 183.3v4.4"/>
<path d="M76 186.5h4.4M78.2 184.3v4.4"/>
<path d="M75.9 183.8h4.4M78.1 181.6v4.4"/>
<path d="M75.5 182h4.4M77.7 179.8v4.4"/>
<path d="M75.6 181.8h4.4M77.8 179.6v4.4"/>
<path d="M76 187.4h4.4M78.2 185.2v4.4"/>
<path d="M78.2 176.6h4.4M80.4 174.4v4.4"/>
<path d="M76.1 187.4h4.4M78.3 185.2v4.4"/>
<path d="M77 181.9h4.4M79.2 179.7v4.4"/>
<path d="M76.1 176.6h4.4M78.3 174.4v4.4"/>
<path d="M76.9 178.7h4.4M79.1 176.5v4.4"/>
<path d="M77.3 176.1h4.4M79.5 173.9v4.4"/>
<path d="M74.7 182.4h4.4M76.9 180.2v4.4"/>
<path d="M74.6 177.6h4.4M76.8 175.4v4.4"/>
<path d="M76.7 183h4.4M78.9 180.8v4.4"/>
<path d="M76.6 74.3h4.4M78.8 72.1v4.4"/>
<path d="M76.1 106.5h4.4M78.3 104.3v4.4"/>
<path d="M59.4 144.7h4.4M61.6 142.5v4.4"/>
<path d="M59.4 152.9h4.4M61.6 150.7v4.4"/>
<path d="M81.8 152h4.4M84 149.8v4.4"/>
<path d="M90.7 161.8h4.4M92.9 159.6v4.4"/>
<path d="M87.4 167.7h4.4M89.6 165.5v4.4"/>
<path d="M87.6 172.6h4.4M89.8 170.4v4.4"/>
<path d="M99.9 161.8h4.4M102.1 159.6v4.4"/>
<path d="M82.5 179.9h4.4M84.7 177.7v4.4"/>
<path d="M122.8 141h4.4M125 138.8v4.4"/>
<path d="M121.8 145h4.4M124 142.8v4.4"/>
<path d="M122.3 150h4.4M124.5 147.8v4.4"/>
<path d="M121.8 154h4.4M124 151.8v4.4"/>
<path d="M122.9 154.5h4.4M125.1 152.3v4.4"/>
<path d="M124.8 155.1h4.4M127 152.9v4.4"/>
<path d="M123.6 152.1h4.4M125.8 149.9v4.4"/>
<path d="M121.8 156.5h4.4M124 154.3v4.4"/>
<path d="M122 154.3h4.4M124.2 152.1v4.4"/>
<path d="M124 153.3h4.4M126.2 151.1v4.4"/>
<path d="M124.4 173.1h4.4M126.6 170.9v4.4"/>
<path d="M123.4 166.6h4.4M125.6 164.4v4.4"/>
<path d="M123.9 161.6h4.4M126.1 159.4v4.4"/>
<path d="M122.5 162.3h4.4M124.7 160.1v4.4"/>
<path d="M120.3 165.3h4.4M122.5 163.1v4.4"/>
<path d="M120.6 172.3h4.4M122.8 170.1v4.4"/>
<path d="M122.9 171.1h4.4M125.1 168.9v4.4"/>
<path d="M120.9 171.8h4.4M123.1 169.6v4.4"/>
<path d="M122.8 173.7h4.4M125 171.5v4.4"/>
<path d="M122.7 171.5h4.4M124.9 169.3v4.4"/>
<path d="M121.2 167.5h4.4M123.4 165.3v4.4"/>
<path d="M122 171.8h4.4M124.2 169.6v4.4"/>
<path d="M121 169.1h4.4M123.2 166.9v4.4"/>
<path d="M123 170.8h4.4M125.2 168.6v4.4"/>
<path d="M121.7 165.9h4.4M123.9 163.7v4.4"/>
<path d="M123.8 171.8h4.4M126 169.6v4.4"/>
<path d="M123.4 167.5h4.4M125.6 165.3v4.4"/>
<path d="M124.1 162.2h4.4M126.3 160v4.4"/>
<path d="M123.3 168.7h4.4M125.5 166.5v4.4"/>
<path d="M122.1 172.7h4.4M124.3 170.5v4.4"/>
<path d="M121.4 174.4h4.4M123.6 172.2v4.4"/>
<path d="M123.5 160.2h4.4M125.7 158v4.4"/>
<path d="M125.4 168.5h4.4M127.6 166.3v4.4"/>
<path d="M121.4 168.1h4.4M123.6 165.9v4.4"/>
<path d="M122.1 167.8h4.4M124.3 165.6v4.4"/>
<path d="M121.2 165.4h4.4M123.4 163.2v4.4"/>
<path d="M121.9 165.3h4.4M124.1 163.1v4.4"/>
<path d="M120.9 161.5h4.4M123.1 159.3v4.4"/>
<path d="M119.7 166h4.4M121.9 163.8v4.4"/>
<path d="M121.2 174.5h4.4M123.4 172.3v4.4"/>
<path d="M124.4 166.6h4.4M126.6 164.4v4.4"/>
<path d="M122.8 168h4.4M125 165.8v4.4"/>
<path d="M124.1 162.6h4.4M126.3 160.4v4.4"/>
<path d="M122.6 167.7h4.4M124.8 165.5v4.4"/>
<path d="M125 173.4h4.4M127.2 171.2v4.4"/>
<path d="M118.1 173.3h4.4M120.3 171.1v4.4"/>
<path d="M122 162.3h4.4M124.2 160.1v4.4"/>
<path d="M122.7 162.8h4.4M124.9 160.6v4.4"/>
<path d="M119.5 169.5h4.4M121.7 167.3v4.4"/>
<path d="M124.6 169.5h4.4M126.8 167.3v4.4"/>
<path d="M121.9 166.2h4.4M124.1 164v4.4"/>
<path d="M123.8 160.1h4.4M126 157.9v4.4"/>
<path d="M122.2 172.6h4.4M124.4 170.4v4.4"/>
<path d="M121.8 167.5h4.4M124 165.3v4.4"/>
<path d="M117.1 164h4.4M119.3 161.8v4.4"/>
<path d="M121.7 168.6h4.4M123.9 166.4v4.4"/>
<path d="M122.8 161.8h4.4M125 159.6v4.4"/>
<path d="M122.5 161.5h4.4M124.7 159.3v4.4"/>
<path d="M120.5 167.8h4.4M122.7 165.6v4.4"/>
<path d="M122 160.9h4.4M124.2 158.7v4.4"/>
<path d="M122.7 171.6h4.4M124.9 169.4v4.4"/>
<path d="M122.2 162.5h4.4M124.4 160.3v4.4"/>
<path d="M121.4 161.5h4.4M123.6 159.3v4.4"/>
<path d="M122 166.7h4.4M124.2 164.5v4.4"/>
<path d="M119.1 160.8h4.4M121.3 158.6v4.4"/>
<path d="M120.7 166.6h4.4M122.9 164.4v4.4"/>
<path d="M124 163.7h4.4M126.2 161.5v4.4"/>
<path d="M121.4 164.7h4.4M123.6 162.5v4.4"/>
<path d="M121.4 172.2h4.4M123.6 170v4.4"/>
<path d="M120.2 167.4h4.4M122.4 165.2v4.4"/>
<path d="M122.6 181.1h4.4M124.8 178.9v4.4"/>
<path d="M121.6 182.7h4.4M123.8 180.5v4.4"/>
<path d="M122.8 187.1h4.4M125 184.9v4.4"/>
<path d="M123.2 184h4.4M125.4 181.8v4.4"/>
<path d="M122.5 199.3h4.4M124.7 197.1v4.4"/>
<path d="M122.5 188.3h4.4M124.7 186.1v4.4"/>
<path d="M123.7 185.1h4.4M125.9 182.9v4.4"/>
<path d="M123.7 183.8h4.4M125.9 181.6v4.4"/>
<path d="M122.8 179.8h4.4M125 177.6v4.4"/>
<path d="M123 191.6h4.4M125.2 189.4v4.4"/>
<path d="M123.9 178.9h4.4M126.1 176.7v4.4"/>
<path d="M123.1 195.9h4.4M125.3 193.7v4.4"/>
<path d="M123.1 186.1h4.4M125.3 183.9v4.4"/>
<path d="M121.9 183.8h4.4M124.1 181.6v4.4"/>
<path d="M123.9 184.4h4.4M126.1 182.2v4.4"/>
<path d="M124.5 187.6h4.4M126.7 185.4v4.4"/>
<path d="M122.7 186.3h4.4M124.9 184.1v4.4"/>
<path d="M121.5 197.5h4.4M123.7 195.3v4.4"/>
<path d="M122.4 184.2h4.4M124.6 182v4.4"/>
<path d="M122.5 196.8h4.4M124.7 194.6v4.4"/>
<path d="M122.4 187.8h4.4M124.6 185.6v4.4"/>
<path d="M125.7 184.6h4.4M127.9 182.4v4.4"/>
<path d="M122.6 189.2h4.4M124.8 187v4.4"/>
<path d="M123.3 179.4h4.4M125.5 177.2v4.4"/>
<path d="M124.5 183h4.4M126.7 180.8v4.4"/>
<path d="M124.2 184h4.4M126.4 181.8v4.4"/>
<path d="M122.6 182.4h4.4M124.8 180.2v4.4"/>
<path d="M123.9 178.2h4.4M126.1 176v4.4"/>
<path d="M125.3 182.1h4.4M127.5 179.9v4.4"/>
<path d="M121.2 197.1h4.4M123.4 194.9v4.4"/>
<path d="M123.8 178.3h4.4M126 176.1v4.4"/>
<path d="M123.3 191.6h4.4M125.5 189.4v4.4"/>
<path d="M122.4 185.3h4.4M124.6 183.1v4.4"/>
<path d="M121.6 196.2h4.4M123.8 194v4.4"/>
<path d="M124 190.7h4.4M126.2 188.5v4.4"/>
<path d="M125.3 193.4h4.4M127.5 191.2v4.4"/>
<path d="M123 176h4.4M125.2 173.8v4.4"/>
<path d="M123.8 182.6h4.4M126 180.4v4.4"/>
<path d="M122.5 176h4.4M124.7 173.8v4.4"/>
<path d="M122 196h4.4M124.2 193.8v4.4"/>
<path d="M121.8 192.9h4.4M124 190.7v4.4"/>
<path d="M123.2 183.7h4.4M125.4 181.5v4.4"/>
<path d="M122.7 195.9h4.4M124.9 193.7v4.4"/>
<path d="M123.3 196.4h4.4M125.5 194.2v4.4"/>
<path d="M123.7 176.2h4.4M125.9 174v4.4"/>
<path d="M124.7 180.3h4.4M126.9 178.1v4.4"/>
<path d="M122.6 193.7h4.4M124.8 191.5v4.4"/>
<path d="M121.2 193.7h4.4M123.4 191.5v4.4"/>
<path d="M123.5 182h4.4M125.7 179.8v4.4"/>
<path d="M122.2 198.3h4.4M124.4 196.1v4.4"/>
<path d="M121.5 193.5h4.4M123.7 191.3v4.4"/>
<path d="M121.5 176.4h4.4M123.7 174.2v4.4"/>
<path d="M123.6 185.7h4.4M125.8 183.5v4.4"/>
<path d="M122.6 194h4.4M124.8 191.8v4.4"/>
<path d="M122.6 192.6h4.4M124.8 190.4v4.4"/>
<path d="M124.9 199.2h4.4M127.1 197v4.4"/>
<path d="M123.4 188.6h4.4M125.6 186.4v4.4"/>
<path d="M123 185.3h4.4M125.2 183.1v4.4"/>
<path d="M122.5 182.8h4.4M124.7 180.6v4.4"/>
<path d="M121.8 180.9h4.4M124 178.7v4.4"/>
<path d="M124.3 187.9h4.4M126.5 185.7v4.4"/>
<path d="M122.2 182.5h4.4M124.4 180.3v4.4"/>
<path d="M121.2 178.5h4.4M123.4 176.3v4.4"/>
<path d="M125.5 188.7h4.4M127.7 186.5v4.4"/>
<path d="M121.3 179.2h4.4M123.5 177v4.4"/>
<path d="M121.7 194.2h4.4M123.9 192v4.4"/>
<path d="M122.5 177.9h4.4M124.7 175.7v4.4"/>
<path d="M123.2 176.5h4.4M125.4 174.3v4.4"/>
<path d="M122 179.9h4.4M124.2 177.7v4.4"/>
<path d="M123.1 183.1h4.4M125.3 180.9v4.4"/>
<path d="M122.9 184.1h4.4M125.1 181.9v4.4"/>
<path d="M122.9 199.8h4.4M125.1 197.6v4.4"/>
<path d="M125 177.1h4.4M127.2 174.9v4.4"/>
<path d="M122.5 177.7h4.4M124.7 175.5v4.4"/>
<path d="M122.7 185.9h4.4M124.9 183.7v4.4"/>
<path d="M122.7 198h4.4M124.9 195.8v4.4"/>
<path d="M122.1 190.7h4.4M124.3 188.5v4.4"/>
<path d="M122.4 181.1h4.4M124.6 178.9v4.4"/>
<path d="M123.6 175.7h4.4M125.8 173.5v4.4"/>
<path d="M121.6 179.6h4.4M123.8 177.4v4.4"/>
<path d="M124.3 196.1h4.4M126.5 193.9v4.4"/>
<path d="M125.4 195.8h4.4M127.6 193.6v4.4"/>
<path d="M123.1 183.2h4.4M125.3 181v4.4"/>
<path d="M121.5 184.2h4.4M123.7 182v4.4"/>
<path d="M122.8 184.2h4.4M125 182v4.4"/>
<path d="M123.3 189.2h4.4M125.5 187v4.4"/>
<path d="M126.2 195.5h4.4M128.4 193.3v4.4"/>
<path d="M120.5 187.4h4.4M122.7 185.2v4.4"/>
<path d="M122.6 178.9h4.4M124.8 176.7v4.4"/>
<path d="M122.7 192.2h4.4M124.9 190v4.4"/>
<path d="M123.2 186.1h4.4M125.4 183.9v4.4"/>
<path d="M122.9 186h4.4M125.1 183.8v4.4"/>
<path d="M123.5 193.1h4.4M125.7 190.9v4.4"/>
<path d="M120 194.7h4.4M122.2 192.5v4.4"/>
<path d="M121 182.1h4.4M123.2 179.9v4.4"/>
<path d="M122.6 183.5h4.4M124.8 181.3v4.4"/>
<path d="M123.6 191.7h4.4M125.8 189.5v4.4"/>
<path d="M122.2 182.4h4.4M124.4 180.2v4.4"/>
<path d="M122.9 189.1h4.4M125.1 186.9v4.4"/>
<path d="M123.5 183.1h4.4M125.7 180.9v4.4"/>
<path d="M125.9 199.3h4.4M128.1 197.1v4.4"/>
<path d="M119.4 199h4.4M121.6 196.8v4.4"/>
<path d="M122.4 195.3h4.4M124.6 193.1v4.4"/>
<path d="M120.7 182.4h4.4M122.9 180.2v4.4"/>
<path d="M121.9 198.8h4.4M124.1 196.6v4.4"/>
<path d="M121.7 183.6h4.4M123.9 181.4v4.4"/>
<path d="M122.5 175.7h4.4M124.7 173.5v4.4"/>
<path d="M121.1 177.1h4.4M123.3 174.9v4.4"/>
<path d="M121 184.3h4.4M123.2 182.1v4.4"/>
<path d="M123.8 189.1h4.4M126 186.9v4.4"/>
<path d="M123.5 177.9h4.4M125.7 175.7v4.4"/>
<path d="M121.4 177.8h4.4M123.6 175.6v4.4"/>
<path d="M122.3 181.3h4.4M124.5 179.1v4.4"/>
<path d="M122.6 187.2h4.4M124.8 185v4.4"/>
<path d="M124.3 180.7h4.4M126.5 178.5v4.4"/>
<path d="M123.3 189.7h4.4M125.5 187.5v4.4"/>
<path d="M121.5 185.2h4.4M123.7 183v4.4"/>
<path d="M124.1 188.8h4.4M126.3 186.6v4.4"/>
<path d="M123.9 193.9h4.4M126.1 191.7v4.4"/>
<path d="M122.6 177.6h4.4M124.8 175.4v4.4"/>
<path d="M123.7 184.8h4.4M125.9 182.6v4.4"/>
<path d="M122.6 194.4h4.4M124.8 192.2v4.4"/>
<path d="M122.9 194.4h4.4M125.1 192.2v4.4"/>
<path d="M124.4 175.4h4.4M126.6 173.2v4.4"/>
<path d="M122.6 180.3h4.4M124.8 178.1v4.4"/>
<path d="M121.1 197.2h4.4M123.3 195v4.4"/>
<path d="M125.8 196.8h4.4M128 194.6v4.4"/>
<path d="M121.1 179.2h4.4M123.3 177v4.4"/>
<path d="M121.5 183.5h4.4M123.7 181.3v4.4"/>
<path d="M119.9 178.1h4.4M122.1 175.9v4.4"/>
<path d="M122.7 193.4h4.4M124.9 191.2v4.4"/>
<path d="M122.6 190.1h4.4M124.8 187.9v4.4"/>
<path d="M125.7 188.7h4.4M127.9 186.5v4.4"/>
<path d="M123.8 191.9h4.4M126 189.7v4.4"/>
<path d="M124 179.8h4.4M126.2 177.6v4.4"/>
<path d="M122 177.8h4.4M124.2 175.6v4.4"/>
<path d="M123.7 177.8h4.4M125.9 175.6v4.4"/>
<path d="M124.8 182.3h4.4M127 180.1v4.4"/>
<path d="M123.4 184.5h4.4M125.6 182.3v4.4"/>
<path d="M121.3 192.2h4.4M123.5 190v4.4"/>
<path d="M122.6 198.7h4.4M124.8 196.5v4.4"/>
<path d="M123.6 187.5h4.4M125.8 185.3v4.4"/>
<path d="M123.3 195h4.4M125.5 192.8v4.4"/>
<path d="M125.7 192h4.4M127.9 189.8v4.4"/>
<path d="M123.2 186.9h4.4M125.4 184.7v4.4"/>
<path d="M121.4 196.8h4.4M123.6 194.6v4.4"/>
<path d="M123.1 176.9h4.4M125.3 174.7v4.4"/>
<path d="M124.2 189.7h4.4M126.4 187.5v4.4"/>
<path d="M120.6 179.2h4.4M122.8 177v4.4"/>
<path d="M123.2 184.7h4.4M125.4 182.5v4.4"/>
<path d="M122.6 175.1h4.4M124.8 172.9v4.4"/>
<path d="M123.1 186.5h4.4M125.3 184.3v4.4"/>
<path d="M122.5 176.1h4.4M124.7 173.9v4.4"/>
<path d="M121.6 181.8h4.4M123.8 179.6v4.4"/>
<path d="M118.6 181.6h4.4M120.8 179.4v4.4"/>
<path d="M122.5 199.8h4.4M124.7 197.6v4.4"/>
<path d="M124.8 189h4.4M127 186.8v4.4"/>
<path d="M120.7 190.8h4.4M122.9 188.6v4.4"/>
<path d="M123.2 184.1h4.4M125.4 181.9v4.4"/>
<path d="M119.5 198.5h4.4M121.7 196.3v4.4"/>
<path d="M122.7 182.6h4.4M124.9 180.4v4.4"/>
<path d="M120.8 190.9h4.4M123 188.7v4.4"/>
<path d="M124.2 188.8h4.4M126.4 186.6v4.4"/>
<path d="M123.4 183.1h4.4M125.6 180.9v4.4"/>
<path d="M122.9 187h4.4M125.1 184.8v4.4"/>
<path d="M123.3 202.4h4.4M125.5 200.2v4.4"/>
<path d="M121 200.1h4.4M123.2 197.9v4.4"/>
<path d="M123 204h4.4M125.2 201.8v4.4"/>
<path d="M122.6 201.2h4.4M124.8 199v4.4"/>
<path d="M124.2 205.1h4.4M126.4 202.9v4.4"/>
<path d="M123.6 206.6h4.4M125.8 204.4v4.4"/>
<path d="M122.4 200.6h4.4M124.6 198.4v4.4"/>
<path d="M121 204.1h4.4M123.2 201.9v4.4"/>
<path d="M125.1 203h4.4M127.3 200.8v4.4"/>
<path d="M123.9 200.5h4.4M126.1 198.3v4.4"/>
<path d="M122.5 201.8h4.4M124.7 199.6v4.4"/>
<path d="M122.7 201.2h4.4M124.9 199v4.4"/>
<path d="M122.3 202.8h4.4M124.5 200.6v4.4"/>
<path d="M122.1 204.2h4.4M124.3 202v4.4"/>
<path d="M121.9 205.1h4.4M124.1 202.9v4.4"/>
<path d="M123.3 204.2h4.4M125.5 202v4.4"/>
<path d="M121.5 202.4h4.4M123.7 200.2v4.4"/>
<path d="M124.5 201.3h4.4M126.7 199.1v4.4"/>
<path d="M122.1 206.5h4.4M124.3 204.3v4.4"/>
<path d="M121.8 202.3h4.4M124 200.1v4.4"/>
<path d="M122.2 204.8h4.4M124.4 202.6v4.4"/>
<path d="M125.1 200.4h4.4M127.3 198.2v4.4"/>
<path d="M123.5 202.3h4.4M125.7 200.1v4.4"/>
<path d="M122.7 204.2h4.4M124.9 202v4.4"/>
<path d="M122.9 206.5h4.4M125.1 204.3v4.4"/>
<path d="M122 206.9h4.4M124.2 204.7v4.4"/>
<path d="M122.1 202.3h4.4M124.3 200.1v4.4"/>
<path d="M122.8 201.1h4.4M125 198.9v4.4"/>
<path d="M122.1 205.7h4.4M124.3 203.5v4.4"/>
<path d="M120.5 203.8h4.4M122.7 201.6v4.4"/>
<path d="M112.7 177.7h4.4M114.9 175.5v4.4"/>
<path d="M140.4 168.4h4.4M142.6 166.2v4.4"/>
<path d="M137.4 190.9h4.4M139.6 188.7v4.4"/>
<path d="M167.3 158.5h4.4M169.5 156.3v4.4"/>
<path d="M167.3 165h4.4M169.5 162.8v4.4"/>
<path d="M167.1 170h4.4M169.3 167.8v4.4"/>
<path d="M167.8 175h4.4M170 172.8v4.4"/>
<path d="M166.7 184.4h4.4M168.9 182.2v4.4"/>
<path d="M166.8 185.7h4.4M169 183.5v4.4"/>
<path d="M165.8 186h4.4M168 183.8v4.4"/>
<path d="M165.4 186h4.4M167.6 183.8v4.4"/>
<path d="M167.6 183.7h4.4M169.8 181.5v4.4"/>
<path d="M165.9 180.2h4.4M168.1 178v4.4"/>
<path d="M167.6 186h4.4M169.8 183.8v4.4"/>
<path d="M167.1 187.9h4.4M169.3 185.7v4.4"/>
<path d="M166.8 179.3h4.4M169 177.1v4.4"/>
<path d="M165.8 179.5h4.4M168 177.3v4.4"/>
<path d="M166.6 187.5h4.4M168.8 185.3v4.4"/>
<path d="M167 180.3h4.4M169.2 178.1v4.4"/>
<path d="M165.3 180.5h4.4M167.5 178.3v4.4"/>
<path d="M168 186h4.4M170.2 183.8v4.4"/>
<path d="M167 184.7h4.4M169.2 182.5v4.4"/>
<path d="M165 186.2h4.4M167.2 184v4.4"/>
<path d="M171.4 180h4.4M173.6 177.8v4.4"/>
<path d="M163.5 179.6h4.4M165.7 177.4v4.4"/>
<path d="M169.6 188.8h4.4M171.8 186.6v4.4"/>
<path d="M170 193.7h4.4M172.2 191.5v4.4"/>
<path d="M166.7 191.1h4.4M168.9 188.9v4.4"/>
<path d="M167.3 191.7h4.4M169.5 189.5v4.4"/>
<path d="M168.6 198.6h4.4M170.8 196.4v4.4"/>
<path d="M167.7 192.2h4.4M169.9 190v4.4"/>
<path d="M169.9 190.2h4.4M172.1 188v4.4"/>
<path d="M167.1 200.2h4.4M169.3 198v4.4"/>
<path d="M165.6 192h4.4M167.8 189.8v4.4"/>
<path d="M168.9 194.8h4.4M171.1 192.6v4.4"/>
<path d="M169.9 196.4h4.4M172.1 194.2v4.4"/>
<path d="M168.2 196.1h4.4M170.4 193.9v4.4"/>
<path d="M171.5 193h4.4M173.7 190.8v4.4"/>
<path d="M168.8 200.1h4.4M171 197.9v4.4"/>
<path d="M165.1 192.2h4.4M167.3 190v4.4"/>
<path d="M171.9 189.6h4.4M174.1 187.4v4.4"/>
<path d="M167.4 190.1h4.4M169.6 187.9v4.4"/>
<path d="M167 189.4h4.4M169.2 187.2v4.4"/>
<path d="M166.2 192.8h4.4M168.4 190.6v4.4"/>
<path d="M167.7 198h4.4M169.9 195.8v4.4"/>
<path d="M167 191.3h4.4M169.2 189.1v4.4"/>
<path d="M166.5 197.7h4.4M168.7 195.5v4.4"/>
<path d="M167.1 194h4.4M169.3 191.8v4.4"/>
<path d="M165.3 188.3h4.4M167.5 186.1v4.4"/>
<path d="M171.2 189.7h4.4M173.4 187.5v4.4"/>
<path d="M168.5 189.9h4.4M170.7 187.7v4.4"/>
<path d="M170.1 190.1h4.4M172.3 187.9v4.4"/>
<path d="M166.5 195h4.4M168.7 192.8v4.4"/>
<path d="M167.8 200.9h4.4M170 198.7v4.4"/>
<path d="M169.7 191h4.4M171.9 188.8v4.4"/>
<path d="M166.2 191.8h4.4M168.4 189.6v4.4"/>
<path d="M168 191.7h4.4M170.2 189.5v4.4"/>
<path d="M167.8 193.7h4.4M170 191.5v4.4"/>
<path d="M166.7 193.1h4.4M168.9 190.9v4.4"/>
<path d="M164.1 195.6h4.4M166.3 193.4v4.4"/>
<path d="M169.6 197.7h4.4M171.8 195.5v4.4"/>
<path d="M166.2 193.6h4.4M168.4 191.4v4.4"/>
<path d="M165.5 193.9h4.4M167.7 191.7v4.4"/>
<path d="M167.6 193.7h4.4M169.8 191.5v4.4"/>
<path d="M165.7 202h4.4M167.9 199.8v4.4"/>
<path d="M164 191.6h4.4M166.2 189.4v4.4"/>
<path d="M167.2 193.3h4.4M169.4 191.1v4.4"/>
<path d="M168.1 199.8h4.4M170.3 197.6v4.4"/>
<path d="M166.9 200.7h4.4M169.1 198.5v4.4"/>
<path d="M165.3 197h4.4M167.5 194.8v4.4"/>
<path d="M170.7 192.4h4.4M172.9 190.2v4.4"/>
<path d="M167.1 199.9h4.4M169.3 197.7v4.4"/>
<path d="M167.4 196.3h4.4M169.6 194.1v4.4"/>
<path d="M170.2 198.4h4.4M172.4 196.2v4.4"/>
<path d="M164.1 198h4.4M166.3 195.8v4.4"/>
<path d="M166.9 197.5h4.4M169.1 195.3v4.4"/>
<path d="M167.6 196.8h4.4M169.8 194.6v4.4"/>
<path d="M170.1 191.7h4.4M172.3 189.5v4.4"/>
<path d="M164.6 194.6h4.4M166.8 192.4v4.4"/>
<path d="M167 191.1h4.4M169.2 188.9v4.4"/>
<path d="M164.4 201h4.4M166.6 198.8v4.4"/>
<path d="M167 199.4h4.4M169.2 197.2v4.4"/>
<path d="M164.1 190.4h4.4M166.3 188.2v4.4"/>
<path d="M167.9 199.6h4.4M170.1 197.4v4.4"/>
<path d="M166 200.1h4.4M168.2 197.9v4.4"/>
<path d="M168.1 199.4h4.4M170.3 197.2v4.4"/>
<path d="M167.7 190.2h4.4M169.9 188v4.4"/>
<path d="M168.3 199.2h4.4M170.5 197v4.4"/>
<path d="M164.9 194.3h4.4M167.1 192.1v4.4"/>
<path d="M171.7 197.7h4.4M173.9 195.5v4.4"/>
<path d="M167.2 194.7h4.4M169.4 192.5v4.4"/>
<path d="M165.8 197.5h4.4M168 195.3v4.4"/>
<path d="M166.6 195.3h4.4M168.8 193.1v4.4"/>
<path d="M167.6 193.3h4.4M169.8 191.1v4.4"/>
<path d="M168.4 190.8h4.4M170.6 188.6v4.4"/>
<path d="M167.3 198.1h4.4M169.5 195.9v4.4"/>
<path d="M167.3 192.5h4.4M169.5 190.3v4.4"/>
<path d="M166.3 196.9h4.4M168.5 194.7v4.4"/>
<path d="M167.9 190.8h4.4M170.1 188.6v4.4"/>
<path d="M166 193.2h4.4M168.2 191v4.4"/>
<path d="M166.7 194.2h4.4M168.9 192v4.4"/>
<path d="M165.3 193.7h4.4M167.5 191.5v4.4"/>
<path d="M164.9 199.4h4.4M167.1 197.2v4.4"/>
<path d="M167.8 200.9h4.4M170 198.7v4.4"/>
<path d="M164.8 201.6h4.4M167 199.4v4.4"/>
<path d="M168 192.6h4.4M170.2 190.4v4.4"/>
<path d="M164.6 198.6h4.4M166.8 196.4v4.4"/>
<path d="M166.7 200.6h4.4M168.9 198.4v4.4"/>
<path d="M164.7 188.4h4.4M166.9 186.2v4.4"/>
<path d="M167.7 199.8h4.4M169.9 197.6v4.4"/>
<path d="M164.7 194.6h4.4M166.9 192.4v4.4"/>
<path d="M168 195.2h4.4M170.2 193v4.4"/>
<path d="M166.6 197.4h4.4M168.8 195.2v4.4"/>
<path d="M167.5 197.5h4.4M169.7 195.3v4.4"/>
<path d="M168.2 198.8h4.4M170.4 196.6v4.4"/>
<path d="M168.2 202.2h4.4M170.4 200v4.4"/>
<path d="M167.1 202.3h4.4M169.3 200.1v4.4"/>
<path d="M164.3 202.2h4.4M166.5 200v4.4"/>
<path d="M170.3 204.1h4.4M172.5 201.9v4.4"/>
<path d="M168.2 203.3h4.4M170.4 201.1v4.4"/>
<path d="M168 205h4.4M170.2 202.8v4.4"/>
<path d="M166.2 203h4.4M168.4 200.8v4.4"/>
<path d="M166.8 202h4.4M169 199.8v4.4"/>
<path d="M167.7 202.9h4.4M169.9 200.7v4.4"/>
<path d="M164.8 204.6h4.4M167 202.4v4.4"/>
<path d="M189.4 192.1h4.4M191.6 189.9v4.4"/>
<path d="M157.8 190h4.4M160 187.8v4.4"/>
<path d="M153.8 198h4.4M156 195.8v4.4"/>
<path d="M213.8 180h4.4M216 177.8v4.4"/>
<path d="M212.8 187h4.4M215 184.8v4.4"/>
<path d="M212.8 190h4.4M215 187.8v4.4"/>
<path d="M212.7 193.3h4.4M214.9 191.1v4.4"/>
<path d="M213.9 197.3h4.4M216.1 195.1v4.4"/>
<path d="M212.3 194h4.4M214.5 191.8v4.4"/>
<path d="M210.3 195.7h4.4M212.5 193.5v4.4"/>
<path d="M213.4 195.9h4.4M215.6 193.7v4.4"/>
<path d="M213.8 197h4.4M216 194.8v4.4"/>
<path d="M212.2 193.3h4.4M214.4 191.1v4.4"/>
<path d="M211 195.7h4.4M213.2 193.5v4.4"/>
<path d="M212 194.4h4.4M214.2 192.2v4.4"/>
<path d="M213.8 194.5h4.4M216 192.3v4.4"/>
<path d="M210 195.3h4.4M212.2 193.1v4.4"/>
<path d="M215 195.2h4.4M217.2 193v4.4"/>
<path d="M213.1 196.2h4.4M215.3 194v4.4"/>
<path d="M212.3 197.3h4.4M214.5 195.1v4.4"/>
<path d="M212 197.6h4.4M214.2 195.4v4.4"/>
<path d="M211.3 197h4.4M213.5 194.8v4.4"/>
<path d="M211.6 194.5h4.4M213.8 192.3v4.4"/>
<path d="M213.3 197.2h4.4M215.5 195v4.4"/>
<path d="M212.5 193.5h4.4M214.7 191.3v4.4"/>
<path d="M210 196.9h4.4M212.2 194.7v4.4"/>
<path d="M214.4 194.3h4.4M216.6 192.1v4.4"/>
<path d="M214.1 196.4h4.4M216.3 194.2v4.4"/>
<path d="M214 193.2h4.4M216.2 191v4.4"/>
<path d="M212.1 194.5h4.4M214.3 192.3v4.4"/>
<path d="M212.4 195.8h4.4M214.6 193.6v4.4"/>
<path d="M213.1 205.3h4.4M215.3 203.1v4.4"/>
<path d="M211.7 204.4h4.4M213.9 202.2v4.4"/>
<path d="M211.9 201.1h4.4M214.1 198.9v4.4"/>
<path d="M215 199.8h4.4M217.2 197.6v4.4"/>
<path d="M212.5 198.7h4.4M214.7 196.5v4.4"/>
<path d="M211.9 203.4h4.4M214.1 201.2v4.4"/>
<path d="M215.5 204.6h4.4M217.7 202.4v4.4"/>
<path d="M209.4 205.5h4.4M211.6 203.3v4.4"/>
<path d="M212.8 200.3h4.4M215 198.1v4.4"/>
<path d="M211.7 205.4h4.4M213.9 203.2v4.4"/>
<path d="M210.6 201.9h4.4M212.8 199.7v4.4"/>
<path d="M212.2 198.7h4.4M214.4 196.5v4.4"/>
<path d="M213.7 200.2h4.4M215.9 198v4.4"/>
<path d="M212.3 205.4h4.4M214.5 203.2v4.4"/>
<path d="M209.8 202.8h4.4M212 200.6v4.4"/>
<path d="M214.6 203.3h4.4M216.8 201.1v4.4"/>
<path d="M212.9 200.7h4.4M215.1 198.5v4.4"/>
<path d="M216.4 199.4h4.4M218.6 197.2v4.4"/>
<path d="M212.4 200.4h4.4M214.6 198.2v4.4"/>
<path d="M212.4 202.4h4.4M214.6 200.2v4.4"/>
<path d="M215.4 202.8h4.4M217.6 200.6v4.4"/>
<path d="M213.4 198.8h4.4M215.6 196.6v4.4"/>
<path d="M211.5 199.1h4.4M213.7 196.9v4.4"/>
<path d="M213.5 203.3h4.4M215.7 201.1v4.4"/>
<path d="M210.7 199.4h4.4M212.9 197.2v4.4"/>
<path d="M216.5 205h4.4M218.7 202.8v4.4"/>
<path d="M213.1 199.2h4.4M215.3 197v4.4"/>
<path d="M212 202h4.4M214.2 199.8v4.4"/>
<path d="M214.2 198.9h4.4M216.4 196.7v4.4"/>
<path d="M215.1 202.1h4.4M217.3 199.9v4.4"/>
<path d="M213.1 199.6h4.4M215.3 197.4v4.4"/>
<path d="M213.9 199.9h4.4M216.1 197.7v4.4"/>
<path d="M218 202h4.4M220.2 199.8v4.4"/>
<path d="M213.3 201.9h4.4M215.5 199.7v4.4"/>
<path d="M213.3 202.6h4.4M215.5 200.4v4.4"/>
<path d="M214.3 199.2h4.4M216.5 197v4.4"/>
<path d="M211 198.2h4.4M213.2 196v4.4"/>
<path d="M212.7 205.1h4.4M214.9 202.9v4.4"/>
<path d="M211.5 202.6h4.4M213.7 200.4v4.4"/>
<path d="M211.9 203.7h4.4M214.1 201.5v4.4"/>
<path d="M213.4 200h4.4M215.6 197.8v4.4"/>
<path d="M212.7 202.9h4.4M214.9 200.7v4.4"/>
<path d="M213.2 204.5h4.4M215.4 202.3v4.4"/>
<path d="M211.9 205.4h4.4M214.1 203.2v4.4"/>
<path d="M212 205.5h4.4M214.2 203.3v4.4"/>
<path d="M213.3 200h4.4M215.5 197.8v4.4"/>
<path d="M212.5 203.4h4.4M214.7 201.2v4.4"/>
<path d="M213.2 199.6h4.4M215.4 197.4v4.4"/>
<path d="M216.7 200.6h4.4M218.9 198.4v4.4"/>
<path d="M212.7 201.8h4.4M214.9 199.6v4.4"/>
<path d="M212.8 204.2h4.4M215 202v4.4"/>
<path d="M209.7 199.6h4.4M211.9 197.4v4.4"/>
<path d="M215.7 204.8h4.4M217.9 202.6v4.4"/>
<path d="M213.6 200.8h4.4M215.8 198.6v4.4"/>
<path d="M212.8 205.7h4.4M215 203.5v4.4"/>
<path d="M211.6 204.6h4.4M213.8 202.4v4.4"/>
<path d="M214.8 205.2h4.4M217 203v4.4"/>
<path d="M209.4 202.7h4.4M211.6 200.5v4.4"/>
<path d="M214.1 204.6h4.4M216.3 202.4v4.4"/>
<path d="M211.5 205.7h4.4M213.7 203.5v4.4"/>
<path d="M214.4 205.6h4.4M216.6 203.4v4.4"/>
<path d="M212 200h4.4M214.2 197.8v4.4"/>
<path d="M212.2 199.9h4.4M214.4 197.7v4.4"/>
<path d="M213.2 201.9h4.4M215.4 199.7v4.4"/>
<path d="M209.8 203.5h4.4M212 201.3v4.4"/>
<path d="M215.2 204.3h4.4M217.4 202.1v4.4"/>
<path d="M212 205.5h4.4M214.2 203.3v4.4"/>
<path d="M213.3 203.2h4.4M215.5 201v4.4"/>
<path d="M214.8 200.7h4.4M217 198.5v4.4"/>
<path d="M209.5 198h4.4M211.7 195.8v4.4"/>
<path d="M213.2 198.1h4.4M215.4 195.9v4.4"/>
<path d="M210.7 202.8h4.4M212.9 200.6v4.4"/>
<path d="M211.7 200.7h4.4M213.9 198.5v4.4"/>
<path d="M214.2 203h4.4M216.4 200.8v4.4"/>
<path d="M212.5 198.7h4.4M214.7 196.5v4.4"/>
<path d="M210.5 203.3h4.4M212.7 201.1v4.4"/>
<path d="M216.8 199h4.4M219 196.8v4.4"/>
<path d="M213.2 199.5h4.4M215.4 197.3v4.4"/>
<path d="M213.5 205.7h4.4M215.7 203.5v4.4"/>
<path d="M217.4 202.9h4.4M219.6 200.7v4.4"/>
<path d="M215.3 201.2h4.4M217.5 199v4.4"/>
<path d="M212.5 205.9h4.4M214.7 203.7v4.4"/>
<path d="M212.8 204.6h4.4M215 202.4v4.4"/>
<path d="M212.8 199.4h4.4M215 197.2v4.4"/>
<path d="M212.8 201.6h4.4M215 199.4v4.4"/>
<path d="M214.9 198.8h4.4M217.1 196.6v4.4"/>
<path d="M209.2 204.9h4.4M211.4 202.7v4.4"/>
<path d="M216.3 205.2h4.4M218.5 203v4.4"/>
<path d="M207.6 198.6h4.4M209.8 196.4v4.4"/>
<path d="M214.7 200.9h4.4M216.9 198.7v4.4"/>
<path d="M209.5 203.1h4.4M211.7 200.9v4.4"/>
<path d="M212.3 205.3h4.4M214.5 203.1v4.4"/>
<path d="M216.7 200.9h4.4M218.9 198.7v4.4"/>
<path d="M214.3 203.5h4.4M216.5 201.3v4.4"/>
<path d="M215.6 201.6h4.4M217.8 199.4v4.4"/>
<path d="M211.9 208.2h4.4M214.1 206v4.4"/>
<path d="M214.6 207h4.4M216.8 204.8v4.4"/>
<path d="M211.5 206.4h4.4M213.7 204.2v4.4"/>
<path d="M211.6 207.7h4.4M213.8 205.5v4.4"/>
<path d="M213.7 207.9h4.4M215.9 205.7v4.4"/>
<path d="M211.9 208.3h4.4M214.1 206.1v4.4"/>
<path d="M212.2 208.9h4.4M214.4 206.7v4.4"/>
<path d="M208.7 208.4h4.4M210.9 206.2v4.4"/>
<path d="M216.7 208.1h4.4M218.9 205.9v4.4"/>
<path d="M211.3 206.8h4.4M213.5 204.6v4.4"/>
<path d="M212 208.4h4.4M214.2 206.2v4.4"/>
<path d="M213.7 206.4h4.4M215.9 204.2v4.4"/>
<path d="M212.4 208.2h4.4M214.6 206v4.4"/>
<path d="M212.5 206.9h4.4M214.7 204.7v4.4"/>
<path d="M214.9 208.9h4.4M217.1 206.7v4.4"/>
<path d="M193.3 204h4.4M195.5 201.8v4.4"/>
<path d="M198.9 200h4.4M201.1 197.8v4.4"/>
<path d="M201.5 204.4h4.4M203.7 202.2v4.4"/>
<path d="M203.1 204.8h4.4M205.3 202.6v4.4"/>
<path d="M205.5 207.7h4.4M207.7 205.5v4.4"/>
<path d="M224.8 197h4.4M227 194.8v4.4"/>
<path d="M291.3 201.4h4.4M293.5 199.2v4.4"/>
<path d="M290.9 203.2h4.4M293.1 201v4.4"/>
<path d="M290.6 200.4h4.4M292.8 198.2v4.4"/>
<path d="M291.3 211.5h4.4M293.5 209.3v4.4"/>
<path d="M289.2 201.7h4.4M291.4 199.5v4.4"/>
<path d="M291.6 207.3h4.4M293.8 205.1v4.4"/>
<path d="M291 203.1h4.4M293.2 200.9v4.4"/>
<path d="M289.9 206.3h4.4M292.1 204.1v4.4"/>
<path d="M290.3 208.8h4.4M292.5 206.6v4.4"/>
<path d="M291.8 205.9h4.4M294 203.7v4.4"/>
<path d="M291 207.2h4.4M293.2 205v4.4"/>
<path d="M290.7 209.7h4.4M292.9 207.5v4.4"/>
<path d="M290.9 203.6h4.4M293.1 201.4v4.4"/>
<path d="M291.7 199.9h4.4M293.9 197.7v4.4"/>
<path d="M289.5 208.8h4.4M291.7 206.6v4.4"/>
<path d="M291.5 200.4h4.4M293.7 198.2v4.4"/>
<path d="M290 207.4h4.4M292.2 205.2v4.4"/>
<path d="M290.4 209.1h4.4M292.6 206.9v4.4"/>
<path d="M290.5 211.2h4.4M292.7 209v4.4"/>
<path d="M291.4 209.5h4.4M293.6 207.3v4.4"/>
<path d="M289.8 201.4h4.4M292 199.2v4.4"/>
<path d="M290.8 207.7h4.4M293 205.5v4.4"/>
<path d="M291.5 200.7h4.4M293.7 198.5v4.4"/>
<path d="M291.4 205.5h4.4M293.6 203.3v4.4"/>
<path d="M289.9 207.7h4.4M292.1 205.5v4.4"/>
<path d="M291.7 202.6h4.4M293.9 200.4v4.4"/>
<path d="M291.9 209.3h4.4M294.1 207.1v4.4"/>
<path d="M292.2 208.8h4.4M294.4 206.6v4.4"/>
<path d="M290.9 210.7h4.4M293.1 208.5v4.4"/>
<path d="M289.1 207.4h4.4M291.3 205.2v4.4"/>
<path d="M290.6 200.7h4.4M292.8 198.5v4.4"/>
<path d="M290.3 202.6h4.4M292.5 200.4v4.4"/>
<path d="M290.9 206.8h4.4M293.1 204.6v4.4"/>
<path d="M291.3 201.9h4.4M293.5 199.7v4.4"/>
<path d="M291.3 207.8h4.4M293.5 205.6v4.4"/>
<path d="M290.6 208.1h4.4M292.8 205.9v4.4"/>
<path d="M291.7 209.9h4.4M293.9 207.7v4.4"/>
<path d="M291 200.8h4.4M293.2 198.6v4.4"/>
<path d="M290.1 199.8h4.4M292.3 197.6v4.4"/>
<path d="M290.4 199.5h4.4M292.6 197.3v4.4"/>
<path d="M290.7 200.4h4.4M292.9 198.2v4.4"/>
<path d="M290.3 203.3h4.4M292.5 201.1v4.4"/>
<path d="M291.5 201.8h4.4M293.7 199.6v4.4"/>
<path d="M292.8 209.5h4.4M295 207.3v4.4"/>
<path d="M292.2 199.4h4.4M294.4 197.2v4.4"/>
<path d="M291.1 204.5h4.4M293.3 202.3v4.4"/>
<path d="M290.1 207.2h4.4M292.3 205v4.4"/>
<path d="M290.5 205.7h4.4M292.7 203.5v4.4"/>
<path d="M292.8 201.9h4.4M295 199.7v4.4"/>
<path d="M291 211.5h4.4M293.2 209.3v4.4"/>
<path d="M290.7 198.8h4.4M292.9 196.6v4.4"/>
<path d="M291.1 191.9h4.4M293.3 189.7v4.4"/>
<path d="M290.8 195.2h4.4M293 193v4.4"/>
<path d="M291.3 191.2h4.4M293.5 189v4.4"/>
<path d="M289.9 188.5h4.4M292.1 186.3v4.4"/>
<path d="M290.9 188.6h4.4M293.1 186.4v4.4"/>
<path d="M290.3 188.6h4.4M292.5 186.4v4.4"/>
<path d="M290.4 198.6h4.4M292.6 196.4v4.4"/>
<path d="M290.7 198.3h4.4M292.9 196.1v4.4"/>
<path d="M290.2 186.8h4.4M292.4 184.6v4.4"/>
<path d="M290.8 150.5h4.4M293 148.3v4.4"/>
<path d="M290.3 159.5h4.4M292.5 157.3v4.4"/>
<path d="M291.9 155.9h4.4M294.1 153.7v4.4"/>
<path d="M291 151.6h4.4M293.2 149.4v4.4"/>
<path d="M296.6 50.8h4.4M298.8 48.6v4.4"/>
<path d="M302.7 54.1h4.4M304.9 51.9v4.4"/>
<path d="M302.7 55.5h4.4M304.9 53.3v4.4"/>
<path d="M297 60.6h4.4M299.2 58.4v4.4"/>
<path d="M302.7 61.6h4.4M304.9 59.4v4.4"/>
<path d="M303.3 70.7h4.4M305.5 68.5v4.4"/>
<path d="M302.4 72h4.4M304.6 69.8v4.4"/>
<path d="M302.4 76.6h4.4M304.6 74.4v4.4"/>
<path d="M297 78.5h4.4M299.2 76.3v4.4"/>
<path d="M303.1 80.6h4.4M305.3 78.4v4.4"/>
<path d="M313.2 77.8h4.4M315.4 75.6v4.4"/>
<path d="M297 85.7h4.4M299.2 83.5v4.4"/>
<path d="M301.4 85.7h4.4M303.6 83.5v4.4"/>
<path d="M302.4 87.9h4.4M304.6 85.7v4.4"/>
<path d="M313.2 85h4.4M315.4 82.8v4.4"/>
<path d="M313.2 88.6h4.4M315.4 86.4v4.4"/>
<path d="M303.3 96.5h4.4M305.5 94.3v4.4"/>
<path d="M303.8 97.5h4.4M306 95.3v4.4"/>
<path d="M302.6 95.8h4.4M304.8 93.6v4.4"/>
<path d="M314.8 98.7h4.4M317 96.5v4.4"/>
<path d="M315.1 99.3h4.4M317.3 97.1v4.4"/>
<path d="M297.7 105.9h4.4M299.9 103.7v4.4"/>
<path d="M297.3 106h4.4M299.5 103.8v4.4"/>
<path d="M297.3 108.5h4.4M299.5 106.3v4.4"/>
<path d="M297.1 110h4.4M299.3 107.8v4.4"/>
<path d="M297.3 114.5h4.4M299.5 112.3v4.4"/>
<path d="M302.8 109h4.4M305 106.8v4.4"/>
<path d="M302.8 114.5h4.4M305 112.3v4.4"/>
<path d="M303 117h4.4M305.2 114.8v4.4"/>
<path d="M313.3 109.5h4.4M315.5 107.3v4.4"/>
<path d="M313.3 113h4.4M315.5 110.8v4.4"/>
<path d="M313.4 115h4.4M315.6 112.8v4.4"/>
<path d="M307.8 118.5h4.4M310 116.3v4.4"/>
<path d="M297.5 122.3h4.4M299.7 120.1v4.4"/>
<path d="M296.6 119.2h4.4M298.8 117v4.4"/>
<path d="M294.1 119.8h4.4M296.3 117.6v4.4"/>
<path d="M297.6 128.9h4.4M299.8 126.7v4.4"/>
<path d="M297.4 123.7h4.4M299.6 121.5v4.4"/>
<path d="M297.4 124.8h4.4M299.6 122.6v4.4"/>
<path d="M298.2 120.5h4.4M300.4 118.3v4.4"/>
<path d="M297.4 126.5h4.4M299.6 124.3v4.4"/>
<path d="M297 169.2h4.4M299.2 167v4.4"/>
<path d="M296.1 162.5h4.4M298.3 160.3v4.4"/>
<path d="M297.2 135.4h4.4M299.4 133.2v4.4"/>
<path d="M297.7 145.2h4.4M299.9 143v4.4"/>
<path d="M296.8 163.2h4.4M299 161v4.4"/>
<path d="M297.2 165.6h4.4M299.4 163.4v4.4"/>
<path d="M296.4 132.8h4.4M298.6 130.6v4.4"/>
<path d="M295.6 149.4h4.4M297.8 147.2v4.4"/>
<path d="M297.5 138.2h4.4M299.7 136v4.4"/>
<path d="M296.6 134.2h4.4M298.8 132v4.4"/>
<path d="M296.5 135h4.4M298.7 132.8v4.4"/>
<path d="M297.5 155.5h4.4M299.7 153.3v4.4"/>
<path d="M297.1 147.6h4.4M299.3 145.4v4.4"/>
<path d="M296.9 148.8h4.4M299.1 146.6v4.4"/>
<path d="M297.2 156.9h4.4M299.4 154.7v4.4"/>
<path d="M297.8 157.7h4.4M300 155.5v4.4"/>
<path d="M296.8 135.7h4.4M299 133.5v4.4"/>
<path d="M296.9 139.5h4.4M299.1 137.3v4.4"/>
<path d="M297.3 139.1h4.4M299.5 136.9v4.4"/>
<path d="M295.3 155.4h4.4M297.5 153.2v4.4"/>
<path d="M298 131.5h4.4M300.2 129.3v4.4"/>
<path d="M297 131.5h4.4M299.2 129.3v4.4"/>
<path d="M297.4 139.6h4.4M299.6 137.4v4.4"/>
<path d="M298.6 167.2h4.4M300.8 165v4.4"/>
<path d="M297.2 166.8h4.4M299.4 164.6v4.4"/>
<path d="M297.2 160.3h4.4M299.4 158.1v4.4"/>
<path d="M297.8 168.9h4.4M300 166.7v4.4"/>
<path d="M298.8 136.5h4.4M301 134.3v4.4"/>
<path d="M298.8 134.2h4.4M301 132v4.4"/>
<path d="M295.7 130.1h4.4M297.9 127.9v4.4"/>
<path d="M295.7 152.2h4.4M297.9 150v4.4"/>
<path d="M297.1 153.8h4.4M299.3 151.6v4.4"/>
<path d="M296.7 172.3h4.4M298.9 170.1v4.4"/>
<path d="M297 181.9h4.4M299.2 179.7v4.4"/>
<path d="M297.5 192.3h4.4M299.7 190.1v4.4"/>
<path d="M296.3 183.7h4.4M298.5 181.5v4.4"/>
<path d="M296.9 189.5h4.4M299.1 187.3v4.4"/>
<path d="M297.3 199.3h4.4M299.5 197.1v4.4"/>
<path d="M297 180.6h4.4M299.2 178.4v4.4"/>
<path d="M296.1 195.4h4.4M298.3 193.2v4.4"/>
<path d="M297.1 181h4.4M299.3 178.8v4.4"/>
<path d="M296.5 188.2h4.4M298.7 186v4.4"/>
<path d="M297.3 193.1h4.4M299.5 190.9v4.4"/>
<path d="M297.3 190.8h4.4M299.5 188.6v4.4"/>
<path d="M296.5 185.6h4.4M298.7 183.4v4.4"/>
<path d="M297.9 189.5h4.4M300.1 187.3v4.4"/>
<path d="M298.7 192h4.4M300.9 189.8v4.4"/>
<path d="M296.6 191.5h4.4M298.8 189.3v4.4"/>
<path d="M295.2 190.4h4.4M297.4 188.2v4.4"/>
<path d="M298 175.4h4.4M300.2 173.2v4.4"/>
<path d="M297.1 183.3h4.4M299.3 181.1v4.4"/>
<path d="M297.5 180.5h4.4M299.7 178.3v4.4"/>
<path d="M297.8 172.8h4.4M300 170.6v4.4"/>
<path d="M296.9 198h4.4M299.1 195.8v4.4"/>
<path d="M297.1 195.1h4.4M299.3 192.9v4.4"/>
<path d="M296.7 177.5h4.4M298.9 175.3v4.4"/>
<path d="M298 170.6h4.4M300.2 168.4v4.4"/>
<path d="M295.6 179.9h4.4M297.8 177.7v4.4"/>
<path d="M297.4 193.2h4.4M299.6 191v4.4"/>
<path d="M295.9 173.1h4.4M298.1 170.9v4.4"/>
<path d="M296.3 179.4h4.4M298.5 177.2v4.4"/>
<path d="M297.6 199h4.4M299.8 196.8v4.4"/>
<path d="M294.8 185.9h4.4M297 183.7v4.4"/>
<path d="M296.5 182.2h4.4M298.7 180v4.4"/>
<path d="M297.7 190.7h4.4M299.9 188.5v4.4"/>
<path d="M297.5 178.6h4.4M299.7 176.4v4.4"/>
<path d="M296.8 170.4h4.4M299 168.2v4.4"/>
<path d="M295.6 175.3h4.4M297.8 173.1v4.4"/>
<path d="M297.1 190.6h4.4M299.3 188.4v4.4"/>
<path d="M296.3 177.5h4.4M298.5 175.3v4.4"/>
<path d="M297.3 200.3h4.4M299.5 198.1v4.4"/>
<path d="M297.8 210.6h4.4M300 208.4v4.4"/>
<path d="M295.8 206.5h4.4M298 204.3v4.4"/>
<path d="M296.7 203.3h4.4M298.9 201.1v4.4"/>
<path d="M296.9 200.7h4.4M299.1 198.5v4.4"/>
<path d="M297.3 201.2h4.4M299.5 199v4.4"/>
<path d="M296.8 210.7h4.4M299 208.5v4.4"/>
<path d="M297.9 202h4.4M300.1 199.8v4.4"/>
<path d="M296.9 203.3h4.4M299.1 201.1v4.4"/>
<path d="M296.6 208h4.4M298.8 205.8v4.4"/>
<path d="M297.2 210.3h4.4M299.4 208.1v4.4"/>
<path d="M297 209.1h4.4M299.2 206.9v4.4"/>
<path d="M296.7 209.4h4.4M298.9 207.2v4.4"/>
<path d="M296.7 200.1h4.4M298.9 197.9v4.4"/>
<path d="M296.7 210h4.4M298.9 207.8v4.4"/>
<path d="M302.2 125.9h4.4M304.4 123.7v4.4"/>
<path d="M303.3 119.7h4.4M305.5 117.5v4.4"/>
<path d="M302.7 125.8h4.4M304.9 123.6v4.4"/>
<path d="M303.8 120.7h4.4M306 118.5v4.4"/>
<path d="M303 119.6h4.4M305.2 117.4v4.4"/>
<path d="M304.1 122.4h4.4M306.3 120.2v4.4"/>
<path d="M303.5 121h4.4M305.7 118.8v4.4"/>
<path d="M302.8 124.3h4.4M305 122.1v4.4"/>
<path d="M303.7 121.4h4.4M305.9 119.2v4.4"/>
<path d="M302.9 127.2h4.4M305.1 125v4.4"/>
<path d="M303.1 122.6h4.4M305.3 120.4v4.4"/>
<path d="M302.9 125.7h4.4M305.1 123.5v4.4"/>
<path d="M302.5 126h4.4M304.7 123.8v4.4"/>
<path d="M302.6 120.8h4.4M304.8 118.6v4.4"/>
<path d="M303 148.4h4.4M305.2 146.2v4.4"/>
<path d="M302.5 133.7h4.4M304.7 131.5v4.4"/>
<path d="M302.8 139.2h4.4M305 137v4.4"/>
<path d="M302.4 134.7h4.4M304.6 132.5v4.4"/>
<path d="M303.7 167.5h4.4M305.9 165.3v4.4"/>
<path d="M302.8 132.9h4.4M305 130.7v4.4"/>
<path d="M301.4 164.8h4.4M303.6 162.6v4.4"/>
<path d="M303.4 164.3h4.4M305.6 162.1v4.4"/>
<path d="M302.6 139.6h4.4M304.8 137.4v4.4"/>
<path d="M303.1 164.6h4.4M305.3 162.4v4.4"/>
<path d="M303 167h4.4M305.2 164.8v4.4"/>
<path d="M302.4 159.3h4.4M304.6 157.1v4.4"/>
<path d="M303.1 138.2h4.4M305.3 136v4.4"/>
<path d="M303.4 144.4h4.4M305.6 142.2v4.4"/>
<path d="M302.7 137.2h4.4M304.9 135v4.4"/>
<path d="M304 156.1h4.4M306.2 153.9v4.4"/>
<path d="M303 159.6h4.4M305.2 157.4v4.4"/>
<path d="M302.2 139.4h4.4M304.4 137.2v4.4"/>
<path d="M301.8 135.8h4.4M304 133.6v4.4"/>
<path d="M303.5 167.8h4.4M305.7 165.6v4.4"/>
<path d="M302.4 166.1h4.4M304.6 163.9v4.4"/>
<path d="M303.2 139.1h4.4M305.4 136.9v4.4"/>
<path d="M302.7 138.7h4.4M304.9 136.5v4.4"/>
<path d="M303.1 147.6h4.4M305.3 145.4v4.4"/>
<path d="M304.5 153.3h4.4M306.7 151.1v4.4"/>
<path d="M305.5 146.1h4.4M307.7 143.9v4.4"/>
<path d="M302.9 139.3h4.4M305.1 137.1v4.4"/>
<path d="M299.4 150.5h4.4M301.6 148.3v4.4"/>
<path d="M302.9 154.8h4.4M305.1 152.6v4.4"/>
<path d="M303.4 163.4h4.4M305.6 161.2v4.4"/>
<path d="M302.8 139.1h4.4M305 136.9v4.4"/>
<path d="M302.4 142.9h4.4M304.6 140.7v4.4"/>
<path d="M303.4 130.9h4.4M305.6 128.7v4.4"/>
<path d="M304.3 136.5h4.4M306.5 134.3v4.4"/>
<path d="M302.8 140.3h4.4M305 138.1v4.4"/>
<path d="M303.3 152.5h4.4M305.5 150.3v4.4"/>
<path d="M303.4 134.8h4.4M305.6 132.6v4.4"/>
<path d="M302.1 136h4.4M304.3 133.8v4.4"/>
<path d="M302.7 165.5h4.4M304.9 163.3v4.4"/>
<path d="M302.3 139.4h4.4M304.5 137.2v4.4"/>
<path d="M302.2 146.4h4.4M304.4 144.2v4.4"/>
<path d="M303.6 156.5h4.4M305.8 154.3v4.4"/>
<path d="M302.7 167.7h4.4M304.9 165.5v4.4"/>
<path d="M303 132.1h4.4M305.2 129.9v4.4"/>
<path d="M302.9 141.6h4.4M305.1 139.4v4.4"/>
<path d="M301.6 168.7h4.4M303.8 166.5v4.4"/>
<path d="M303.4 164h4.4M305.6 161.8v4.4"/>
<path d="M303.4 156.1h4.4M305.6 153.9v4.4"/>
<path d="M303.3 156.3h4.4M305.5 154.1v4.4"/>
<path d="M303.5 162h4.4M305.7 159.8v4.4"/>
<path d="M302.6 133h4.4M304.8 130.8v4.4"/>
<path d="M302.7 152.8h4.4M304.9 150.6v4.4"/>
<path d="M302.4 139.5h4.4M304.6 137.3v4.4"/>
<path d="M304.4 151h4.4M306.6 148.8v4.4"/>
<path d="M303.2 155h4.4M305.4 152.8v4.4"/>
<path d="M304 156.9h4.4M306.2 154.7v4.4"/>
<path d="M302.9 157.1h4.4M305.1 154.9v4.4"/>
<path d="M303.6 155.9h4.4M305.8 153.7v4.4"/>
<path d="M302.6 139.3h4.4M304.8 137.1v4.4"/>
<path d="M301.7 168.3h4.4M303.9 166.1v4.4"/>
<path d="M303.5 166h4.4M305.7 163.8v4.4"/>
<path d="M302.4 159.4h4.4M304.6 157.2v4.4"/>
<path d="M302.1 173.8h4.4M304.3 171.6v4.4"/>
<path d="M303.1 176.4h4.4M305.3 174.2v4.4"/>
<path d="M302.9 182.2h4.4M305.1 180v4.4"/>
<path d="M304.1 172.3h4.4M306.3 170.1v4.4"/>
<path d="M302.3 180.7h4.4M304.5 178.5v4.4"/>
<path d="M302.7 183.1h4.4M304.9 180.9v4.4"/>
<path d="M302.8 190.3h4.4M305 188.1v4.4"/>
<path d="M303 181.1h4.4M305.2 178.9v4.4"/>
<path d="M300.7 189.3h4.4M302.9 187.1v4.4"/>
<path d="M303.4 191.1h4.4M305.6 188.9v4.4"/>
<path d="M303.6 179h4.4M305.8 176.8v4.4"/>
<path d="M304.1 194.6h4.4M306.3 192.4v4.4"/>
<path d="M302 187.7h4.4M304.2 185.5v4.4"/>
<path d="M302.7 170.5h4.4M304.9 168.3v4.4"/>
<path d="M302.4 172.1h4.4M304.6 169.9v4.4"/>
<path d="M303.6 175.2h4.4M305.8 173v4.4"/>
<path d="M302.8 178h4.4M305 175.8v4.4"/>
<path d="M303.7 199.6h4.4M305.9 197.4v4.4"/>
<path d="M303.6 199.1h4.4M305.8 196.9v4.4"/>
<path d="M302.3 180.1h4.4M304.5 177.9v4.4"/>
<path d="M303.3 184.4h4.4M305.5 182.2v4.4"/>
<path d="M302.9 171.6h4.4M305.1 169.4v4.4"/>
<path d="M303.2 188.7h4.4M305.4 186.5v4.4"/>
<path d="M302.7 177.9h4.4M304.9 175.7v4.4"/>
<path d="M302.3 184.8h4.4M304.5 182.6v4.4"/>
<path d="M303.4 197.9h4.4M305.6 195.7v4.4"/>
<path d="M302.9 190.8h4.4M305.1 188.6v4.4"/>
<path d="M303.1 191.5h4.4M305.3 189.3v4.4"/>
<path d="M300.9 172.8h4.4M303.1 170.6v4.4"/>
<path d="M303.4 175.7h4.4M305.6 173.5v4.4"/>
<path d="M302 176.9h4.4M304.2 174.7v4.4"/>
<path d="M303.3 189.9h4.4M305.5 187.7v4.4"/>
<path d="M303 187.5h4.4M305.2 185.3v4.4"/>
<path d="M302.8 189h4.4M305 186.8v4.4"/>
<path d="M304 186h4.4M306.2 183.8v4.4"/>
<path d="M303 170.9h4.4M305.2 168.7v4.4"/>
<path d="M303.7 189.2h4.4M305.9 187v4.4"/>
<path d="M303.1 188.4h4.4M305.3 186.2v4.4"/>
<path d="M303.2 189.9h4.4M305.4 187.7v4.4"/>
<path d="M302.9 174.7h4.4M305.1 172.5v4.4"/>
<path d="M300.8 191.5h4.4M303 189.3v4.4"/>
<path d="M302.5 193.8h4.4M304.7 191.6v4.4"/>
<path d="M304.4 171.7h4.4M306.6 169.5v4.4"/>
<path d="M302.5 172.7h4.4M304.7 170.5v4.4"/>
<path d="M302.7 197.9h4.4M304.9 195.7v4.4"/>
<path d="M303.2 183.9h4.4M305.4 181.7v4.4"/>
<path d="M303.2 185.6h4.4M305.4 183.4v4.4"/>
<path d="M302.9 191.5h4.4M305.1 189.3v4.4"/>
<path d="M302.6 172.1h4.4M304.8 169.9v4.4"/>
<path d="M302.6 184.5h4.4M304.8 182.3v4.4"/>
<path d="M302.5 179.5h4.4M304.7 177.3v4.4"/>
<path d="M302 191.4h4.4M304.2 189.2v4.4"/>
<path d="M303.7 197.8h4.4M305.9 195.6v4.4"/>
<path d="M302.1 188.6h4.4M304.3 186.4v4.4"/>
<path d="M303 178.4h4.4M305.2 176.2v4.4"/>
<path d="M303.6 199.4h4.4M305.8 197.2v4.4"/>
<path d="M303.2 188.6h4.4M305.4 186.4v4.4"/>
<path d="M303 172.1h4.4M305.2 169.9v4.4"/>
<path d="M302.3 172.6h4.4M304.5 170.4v4.4"/>
<path d="M303.7 172.8h4.4M305.9 170.6v4.4"/>
<path d="M302.9 208.4h4.4M305.1 206.2v4.4"/>
<path d="M303.1 201.2h4.4M305.3 199v4.4"/>
<path d="M303.3 209.2h4.4M305.5 207v4.4"/>
<path d="M301.9 201.9h4.4M304.1 199.7v4.4"/>
<path d="M303 201.4h4.4M305.2 199.2v4.4"/>
<path d="M302.8 210.7h4.4M305 208.5v4.4"/>
<path d="M304.6 209.8h4.4M306.8 207.6v4.4"/>
<path d="M302.1 205.2h4.4M304.3 203v4.4"/>
<path d="M302.2 205.1h4.4M304.4 202.9v4.4"/>
<path d="M303.2 208.1h4.4M305.4 205.9v4.4"/>
<path d="M305.4 201.2h4.4M307.6 199v4.4"/>
<path d="M302.8 203.7h4.4M305 201.5v4.4"/>
<path d="M303.4 210.9h4.4M305.6 208.7v4.4"/>
<path d="M303.2 209.4h4.4M305.4 207.2v4.4"/>
<path d="M303.5 203.8h4.4M305.7 201.6v4.4"/>
<path d="M303.7 204.6h4.4M305.9 202.4v4.4"/>
<path d="M301.7 200.1h4.4M303.9 197.9v4.4"/>
<path d="M303.7 206.7h4.4M305.9 204.5v4.4"/>
<path d="M302.5 209.3h4.4M304.7 207.1v4.4"/>
<path d="M302.5 202.9h4.4M304.7 200.7v4.4"/>
<path d="M313.6 122.5h4.4M315.8 120.3v4.4"/>
<path d="M311.9 120.7h4.4M314.1 118.5v4.4"/>
<path d="M314.2 128.6h4.4M316.4 126.4v4.4"/>
<path d="M314.5 120.9h4.4M316.7 118.7v4.4"/>
<path d="M309.8 126.7h4.4M312 124.5v4.4"/>
<path d="M313 127.8h4.4M315.2 125.6v4.4"/>
<path d="M312.9 128.1h4.4M315.1 125.9v4.4"/>
<path d="M313.5 124.5h4.4M315.7 122.3v4.4"/>
<path d="M312.3 128.1h4.4M314.5 125.9v4.4"/>
<path d="M314.1 128.5h4.4M316.3 126.3v4.4"/>
<path d="M312.6 157.1h4.4M314.8 154.9v4.4"/>
<path d="M312 131.9h4.4M314.2 129.7v4.4"/>
<path d="M312.9 143.6h4.4M315.1 141.4v4.4"/>
<path d="M313.5 161.3h4.4M315.7 159.1v4.4"/>
<path d="M313.7 140h4.4M315.9 137.8v4.4"/>
<path d="M313.4 143.1h4.4M315.6 140.9v4.4"/>
<path d="M313 132.8h4.4M315.2 130.6v4.4"/>
<path d="M312.8 159.6h4.4M315 157.4v4.4"/>
<path d="M313.6 162.1h4.4M315.8 159.9v4.4"/>
<path d="M314.4 142.4h4.4M316.6 140.2v4.4"/>
<path d="M312.5 166h4.4M314.7 163.8v4.4"/>
<path d="M312.8 142.5h4.4M315 140.3v4.4"/>
<path d="M313 153.5h4.4M315.2 151.3v4.4"/>
<path d="M312.4 150.7h4.4M314.6 148.5v4.4"/>
<path d="M313.8 156.6h4.4M316 154.4v4.4"/>
<path d="M314 144.5h4.4M316.2 142.3v4.4"/>
<path d="M312.8 135h4.4M315 132.8v4.4"/>
<path d="M311.6 131.4h4.4M313.8 129.2v4.4"/>
<path d="M313.6 147.2h4.4M315.8 145v4.4"/>
<path d="M313.6 150.9h4.4M315.8 148.7v4.4"/>
<path d="M312.2 138.9h4.4M314.4 136.7v4.4"/>
<path d="M314.5 162.1h4.4M316.7 159.9v4.4"/>
<path d="M312.3 147.3h4.4M314.5 145.1v4.4"/>
<path d="M313.6 158.4h4.4M315.8 156.2v4.4"/>
<path d="M314.3 143.2h4.4M316.5 141v4.4"/>
<path d="M311.5 137.5h4.4M313.7 135.3v4.4"/>
<path d="M313.3 135.7h4.4M315.5 133.5v4.4"/>
<path d="M313.5 170h4.4M315.7 167.8v4.4"/>
<path d="M312.6 166.4h4.4M314.8 164.2v4.4"/>
<path d="M311.5 160.4h4.4M313.7 158.2v4.4"/>
<path d="M314.2 138.3h4.4M316.4 136.1v4.4"/>
<path d="M315.7 150.1h4.4M317.9 147.9v4.4"/>
<path d="M311.6 150.4h4.4M313.8 148.2v4.4"/>
<path d="M312.7 152.4h4.4M314.9 150.2v4.4"/>
<path d="M311.7 147h4.4M313.9 144.8v4.4"/>
<path d="M312.8 140.4h4.4M315 138.2v4.4"/>
<path d="M313.6 148.7h4.4M315.8 146.5v4.4"/>
<path d="M313.1 130.2h4.4M315.3 128v4.4"/>
<path d="M312.5 139.5h4.4M314.7 137.3v4.4"/>
<path d="M312.4 150.7h4.4M314.6 148.5v4.4"/>
<path d="M311.7 138.1h4.4M313.9 135.9v4.4"/>
<path d="M312.9 158.8h4.4M315.1 156.6v4.4"/>
<path d="M311.5 140.9h4.4M313.7 138.7v4.4"/>
<path d="M313.8 167h4.4M316 164.8v4.4"/>
<path d="M313.1 133.5h4.4M315.3 131.3v4.4"/>
<path d="M314.1 161.9h4.4M316.3 159.7v4.4"/>
<path d="M314.3 155.5h4.4M316.5 153.3v4.4"/>
<path d="M313.3 143.4h4.4M315.5 141.2v4.4"/>
<path d="M313.6 136.4h4.4M315.8 134.2v4.4"/>
<path d="M313.5 154.7h4.4M315.7 152.5v4.4"/>
<path d="M313.6 133.4h4.4M315.8 131.2v4.4"/>
<path d="M313.9 142.6h4.4M316.1 140.4v4.4"/>
<path d="M314.6 147.6h4.4M316.8 145.4v4.4"/>
<path d="M312.5 149.4h4.4M314.7 147.2v4.4"/>
<path d="M313.4 153.7h4.4M315.6 151.5v4.4"/>
<path d="M312.9 136.8h4.4M315.1 134.6v4.4"/>
<path d="M312.1 146.1h4.4M314.3 143.9v4.4"/>
<path d="M313.1 147h4.4M315.3 144.8v4.4"/>
<path d="M312.2 174.6h4.4M314.4 172.4v4.4"/>
<path d="M313.8 187.2h4.4M316 185v4.4"/>
<path d="M311.7 180.6h4.4M313.9 178.4v4.4"/>
<path d="M312.9 197.6h4.4M315.1 195.4v4.4"/>
<path d="M313.7 186.6h4.4M315.9 184.4v4.4"/>
<path d="M314 192.1h4.4M316.2 189.9v4.4"/>
<path d="M314.2 195.5h4.4M316.4 193.3v4.4"/>
<path d="M311.8 187.7h4.4M314 185.5v4.4"/>
<path d="M314.3 186.5h4.4M316.5 184.3v4.4"/>
<path d="M314 175.5h4.4M316.2 173.3v4.4"/>
<path d="M312.8 170.8h4.4M315 168.6v4.4"/>
<path d="M312.6 184.4h4.4M314.8 182.2v4.4"/>
<path d="M315.2 180.5h4.4M317.4 178.3v4.4"/>
<path d="M312.2 197.9h4.4M314.4 195.7v4.4"/>
<path d="M313.5 181.6h4.4M315.7 179.4v4.4"/>
<path d="M313 193.6h4.4M315.2 191.4v4.4"/>
<path d="M314.2 180.9h4.4M316.4 178.7v4.4"/>
<path d="M312.8 186.2h4.4M315 184v4.4"/>
<path d="M315.2 174.8h4.4M317.4 172.6v4.4"/>
<path d="M314.1 170.7h4.4M316.3 168.5v4.4"/>
<path d="M313.6 174.4h4.4M315.8 172.2v4.4"/>
<path d="M313.2 171.7h4.4M315.4 169.5v4.4"/>
<path d="M311.4 197.3h4.4M313.6 195.1v4.4"/>
<path d="M315.6 186.5h4.4M317.8 184.3v4.4"/>
<path d="M313.9 183h4.4M316.1 180.8v4.4"/>
<path d="M312.9 192.4h4.4M315.1 190.2v4.4"/>
<path d="M313.6 196.2h4.4M315.8 194v4.4"/>
<path d="M313.7 187.9h4.4M315.9 185.7v4.4"/>
<path d="M313.3 173.7h4.4M315.5 171.5v4.4"/>
<path d="M313.8 191.2h4.4M316 189v4.4"/>
<path d="M313.8 175.4h4.4M316 173.2v4.4"/>
<path d="M311.2 190.2h4.4M313.4 188v4.4"/>
<path d="M314.4 183h4.4M316.6 180.8v4.4"/>
<path d="M314.9 177.6h4.4M317.1 175.4v4.4"/>
<path d="M313 191.2h4.4M315.2 189v4.4"/>
<path d="M312.8 175.4h4.4M315 173.2v4.4"/>
<path d="M314.9 171.8h4.4M317.1 169.6v4.4"/>
<path d="M312.5 190.4h4.4M314.7 188.2v4.4"/>
<path d="M313.6 187.3h4.4M315.8 185.1v4.4"/>
<path d="M312.7 196.4h4.4M314.9 194.2v4.4"/>
<path d="M314.3 198.3h4.4M316.5 196.1v4.4"/>
<path d="M313.8 197.4h4.4M316 195.2v4.4"/>
<path d="M313.9 181.5h4.4M316.1 179.3v4.4"/>
<path d="M313.6 170.1h4.4M315.8 167.9v4.4"/>
<path d="M311.9 170.2h4.4M314.1 168v4.4"/>
<path d="M311.5 182.4h4.4M313.7 180.2v4.4"/>
<path d="M312.5 182.3h4.4M314.7 180.1v4.4"/>
<path d="M312.5 198.7h4.4M314.7 196.5v4.4"/>
<path d="M313 181.3h4.4M315.2 179.1v4.4"/>
<path d="M313.8 197.1h4.4M316 194.9v4.4"/>
<path d="M311.1 210.9h4.4M313.3 208.7v4.4"/>
<path d="M313.2 203.5h4.4M315.4 201.3v4.4"/>
<path d="M314.9 201.7h4.4M317.1 199.5v4.4"/>
<path d="M313.5 205.4h4.4M315.7 203.2v4.4"/>
<path d="M313.1 210.2h4.4M315.3 208v4.4"/>
<path d="M311 201.6h4.4M313.2 199.4v4.4"/>
<path d="M312.8 206.5h4.4M315 204.3v4.4"/>
<path d="M313.3 210.3h4.4M315.5 208.1v4.4"/>
<path d="M313.1 203h4.4M315.3 200.8v4.4"/>
<path d="M313.2 209.6h4.4M315.4 207.4v4.4"/>
<path d="M312.4 208h4.4M314.6 205.8v4.4"/>
<path d="M313.2 201.1h4.4M315.4 198.9v4.4"/>
<path d="M313 207.2h4.4M315.2 205v4.4"/>
<path d="M317.2 204.1h4.4M319.4 201.9v4.4"/>
<path d="M311.8 204.7h4.4M314 202.5v4.4"/>
<path d="M311 208.9h4.4M313.2 206.7v4.4"/>
<path d="M314 204.4h4.4M316.2 202.2v4.4"/>
<path d="M313.3 205.2h4.4M315.5 203v4.4"/>
<path d="M313 207.5h4.4M315.2 205.3v4.4"/>
<path d="M313.3 210.9h4.4M315.5 208.7v4.4"/>
<path d="M335.1 107.5h4.4M337.3 105.3v4.4"/>
<path d="M338.8 117.5h4.4M341 115.3v4.4"/>
<path d="M332.8 124h4.4M335 121.8v4.4"/>
<path d="M335.3 123.5h4.4M337.5 121.3v4.4"/>
<path d="M335.5 130.5h4.4M337.7 128.3v4.4"/>
<path d="M335.3 131.5h4.4M337.5 129.3v4.4"/>
<path d="M334.3 136.5h4.4M336.5 134.3v4.4"/>
<path d="M337.3 138.5h4.4M339.5 136.3v4.4"/>
<path d="M338.8 138h4.4M341 135.8v4.4"/>
<path d="M339.8 145h4.4M342 142.8v4.4"/>
<path d="M340.8 167.5h4.4M343 165.3v4.4"/>
<path d="M345.7 172.7h4.4M347.9 170.5v4.4"/>
<path d="M345.7 181.9h4.4M347.9 179.7v4.4"/>
<path d="M348.5 192h4.4M350.7 189.8v4.4"/>
<path d="M358.1 176.1h4.4M360.3 173.9v4.4"/>
<path d="M334.6 145.6h4.4M336.8 143.4v4.4"/>
<path d="M336.9 141h4.4M339.1 138.8v4.4"/>
<path d="M335.6 139h4.4M337.8 136.8v4.4"/>
<path d="M334.6 148.7h4.4M336.8 146.5v4.4"/>
<path d="M335.6 146.6h4.4M337.8 144.4v4.4"/>
<path d="M335.6 142.1h4.4M337.8 139.9v4.4"/>
<path d="M335.6 147.8h4.4M337.8 145.6v4.4"/>
<path d="M334.9 140.2h4.4M337.1 138v4.4"/>
<path d="M336 149.2h4.4M338.2 147v4.4"/>
<path d="M335.7 147.4h4.4M337.9 145.2v4.4"/>
<path d="M334.8 148.9h4.4M337 146.7v4.4"/>
<path d="M334.1 149.7h4.4M336.3 147.5v4.4"/>
<path d="M334 162.8h4.4M336.2 160.6v4.4"/>
<path d="M336 151.5h4.4M338.2 149.3v4.4"/>
<path d="M334.4 161.2h4.4M336.6 159v4.4"/>
<path d="M338.4 156.9h4.4M340.6 154.7v4.4"/>
<path d="M334.5 152.4h4.4M336.7 150.2v4.4"/>
<path d="M335.7 158.3h4.4M337.9 156.1v4.4"/>
<path d="M336 157.1h4.4M338.2 154.9v4.4"/>
<path d="M333.1 154h4.4M335.3 151.8v4.4"/>
<path d="M335 158.8h4.4M337.2 156.6v4.4"/>
<path d="M339.1 163.3h4.4M341.3 161.1v4.4"/>
<path d="M334.3 152.1h4.4M336.5 149.9v4.4"/>
<path d="M334.1 164.5h4.4M336.3 162.3v4.4"/>
<path d="M335.1 150.4h4.4M337.3 148.2v4.4"/>
<path d="M334.8 151.9h4.4M337 149.7v4.4"/>
<path d="M334 164.2h4.4M336.2 162v4.4"/>
<path d="M334.1 155.4h4.4M336.3 153.2v4.4"/>
<path d="M334 162.9h4.4M336.2 160.7v4.4"/>
<path d="M334.2 155.4h4.4M336.4 153.2v4.4"/>
<path d="M338.8 153.7h4.4M341 151.5v4.4"/>
<path d="M334.9 151h4.4M337.1 148.8v4.4"/>
<path d="M335.2 157.6h4.4M337.4 155.4v4.4"/>
<path d="M334 162.6h4.4M336.2 160.4v4.4"/>
<path d="M332.4 164.9h4.4M334.6 162.7v4.4"/>
<path d="M335.9 160.7h4.4M338.1 158.5v4.4"/>
<path d="M335.7 164.5h4.4M337.9 162.3v4.4"/>
<path d="M334.2 158.5h4.4M336.4 156.3v4.4"/>
<path d="M336.8 158.8h4.4M339 156.6v4.4"/>
<path d="M335.8 150.2h4.4M338 148v4.4"/>
<path d="M337.7 151.5h4.4M339.9 149.3v4.4"/>
<path d="M334.1 154h4.4M336.3 151.8v4.4"/>
<path d="M335.2 164.5h4.4M337.4 162.3v4.4"/>
<path d="M336.1 160.5h4.4M338.3 158.3v4.4"/>
<path d="M331.8 151.7h4.4M334 149.5v4.4"/>
<path d="M334.7 154.1h4.4M336.9 151.9v4.4"/>
<path d="M336.9 164.3h4.4M339.1 162.1v4.4"/>
<path d="M334.8 194.8h4.4M337 192.6v4.4"/>
<path d="M334.6 186.8h4.4M336.8 184.6v4.4"/>
<path d="M335.3 175.8h4.4M337.5 173.6v4.4"/>
<path d="M335.6 169.7h4.4M337.8 167.5v4.4"/>
<path d="M336.2 182.7h4.4M338.4 180.5v4.4"/>
<path d="M336.7 182.2h4.4M338.9 180v4.4"/>
<path d="M335.8 177.4h4.4M338 175.2v4.4"/>
<path d="M335.3 177.7h4.4M337.5 175.5v4.4"/>
<path d="M335.5 187.7h4.4M337.7 185.5v4.4"/>
<path d="M334.4 167.8h4.4M336.6 165.6v4.4"/>
<path d="M335.4 176.6h4.4M337.6 174.4v4.4"/>
<path d="M334.3 185.1h4.4M336.5 182.9v4.4"/>
<path d="M337 178.6h4.4M339.2 176.4v4.4"/>
<path d="M334.9 170.4h4.4M337.1 168.2v4.4"/>
<path d="M337 167.5h4.4M339.2 165.3v4.4"/>
<path d="M336.4 177.7h4.4M338.6 175.5v4.4"/>
<path d="M335.3 180.4h4.4M337.5 178.2v4.4"/>
<path d="M336.1 174.2h4.4M338.3 172v4.4"/>
<path d="M334.5 192.3h4.4M336.7 190.1v4.4"/>
<path d="M335.5 166.4h4.4M337.7 164.2v4.4"/>
<path d="M336.4 190.4h4.4M338.6 188.2v4.4"/>
<path d="M336.9 166.8h4.4M339.1 164.6v4.4"/>
<path d="M335.3 175.1h4.4M337.5 172.9v4.4"/>
<path d="M334.3 180.3h4.4M336.5 178.1v4.4"/>
<path d="M335 185.1h4.4M337.2 182.9v4.4"/>
<path d="M335.1 192.1h4.4M337.3 189.9v4.4"/>
<path d="M335.5 171.7h4.4M337.7 169.5v4.4"/>
<path d="M335.9 185.6h4.4M338.1 183.4v4.4"/>
<path d="M335.1 175h4.4M337.3 172.8v4.4"/>
<path d="M334.4 177h4.4M336.6 174.8v4.4"/>
<path d="M336 177.9h4.4M338.2 175.7v4.4"/>
<path d="M336.1 194.7h4.4M338.3 192.5v4.4"/>
<path d="M334.4 168h4.4M336.6 165.8v4.4"/>
<path d="M335.4 185.1h4.4M337.6 182.9v4.4"/>
<path d="M336.3 189.3h4.4M338.5 187.1v4.4"/>
<path d="M334.9 179.2h4.4M337.1 177v4.4"/>
<path d="M334.9 179.5h4.4M337.1 177.3v4.4"/>
<path d="M333.3 182.3h4.4M335.5 180.1v4.4"/>
<path d="M335.5 166.4h4.4M337.7 164.2v4.4"/>
<path d="M335 174.7h4.4M337.2 172.5v4.4"/>
<path d="M334.1 182.5h4.4M336.3 180.3v4.4"/>
<path d="M337.1 176h4.4M339.3 173.8v4.4"/>
<path d="M335.2 173.3h4.4M337.4 171.1v4.4"/>
<path d="M335.3 167.7h4.4M337.5 165.5v4.4"/>
<path d="M336.9 190.9h4.4M339.1 188.7v4.4"/>
<path d="M336.3 186.5h4.4M338.5 184.3v4.4"/>
<path d="M335.7 176.4h4.4M337.9 174.2v4.4"/>
<path d="M335.3 175.6h4.4M337.5 173.4v4.4"/>
<path d="M337.4 194.9h4.4M339.6 192.7v4.4"/>
<path d="M334 191h4.4M336.2 188.8v4.4"/>
<path d="M337 194.1h4.4M339.2 191.9v4.4"/>
<path d="M334.7 170.9h4.4M336.9 168.7v4.4"/>
<path d="M334.1 179.5h4.4M336.3 177.3v4.4"/>
<path d="M335.8 182.6h4.4M338 180.4v4.4"/>
<path d="M333.8 173.3h4.4M336 171.1v4.4"/>
<path d="M335.3 184.9h4.4M337.5 182.7v4.4"/>
<path d="M335.4 181h4.4M337.6 178.8v4.4"/>
<path d="M333.1 188.4h4.4M335.3 186.2v4.4"/>
<path d="M333.9 172.5h4.4M336.1 170.3v4.4"/>
<path d="M335.2 173.7h4.4M337.4 171.5v4.4"/>
<path d="M333 186.3h4.4M335.2 184.1v4.4"/>
<path d="M335.5 171.4h4.4M337.7 169.2v4.4"/>
<path d="M333.8 175.7h4.4M336 173.5v4.4"/>
<path d="M336.1 187h4.4M338.3 184.8v4.4"/>
<path d="M334.1 172h4.4M336.3 169.8v4.4"/>
<path d="M333.6 184.1h4.4M335.8 181.9v4.4"/>
<path d="M335.2 173.2h4.4M337.4 171v4.4"/>
<path d="M335.6 193.9h4.4M337.8 191.7v4.4"/>
<path d="M335.6 185.1h4.4M337.8 182.9v4.4"/>
<path d="M334.9 175.1h4.4M337.1 172.9v4.4"/>
<path d="M334 188.9h4.4M336.2 186.7v4.4"/>
<path d="M335.4 173.1h4.4M337.6 170.9v4.4"/>
<path d="M336.9 186.4h4.4M339.1 184.2v4.4"/>
<path d="M333 178.2h4.4M335.2 176v4.4"/>
<path d="M335.6 174.4h4.4M337.8 172.2v4.4"/>
<path d="M336 173.4h4.4M338.2 171.2v4.4"/>
<path d="M337.1 190.6h4.4M339.3 188.4v4.4"/>
<path d="M334.3 177.8h4.4M336.5 175.6v4.4"/>
<path d="M337.5 188.2h4.4M339.7 186v4.4"/>
<path d="M337.4 178.2h4.4M339.6 176v4.4"/>
<path d="M335.9 182.9h4.4M338.1 180.7v4.4"/>
<path d="M335.4 176.4h4.4M337.6 174.2v4.4"/>
<path d="M334.2 176.2h4.4M336.4 174v4.4"/>
<path d="M336.1 183.7h4.4M338.3 181.5v4.4"/>
<path d="M334.4 165.6h4.4M336.6 163.4v4.4"/>
<path d="M334.6 171h4.4M336.8 168.8v4.4"/>
<path d="M334.6 192.3h4.4M336.8 190.1v4.4"/>
<path d="M334.9 174.7h4.4M337.1 172.5v4.4"/>
<path d="M334 174.8h4.4M336.2 172.6v4.4"/>
<path d="M334.9 168.7h4.4M337.1 166.5v4.4"/>
<path d="M333.3 174.3h4.4M335.5 172.1v4.4"/>
<path d="M337.6 168.5h4.4M339.8 166.3v4.4"/>
<path d="M335.4 172.2h4.4M337.6 170v4.4"/>
<path d="M336.1 176.3h4.4M338.3 174.1v4.4"/>
<path d="M335 188.9h4.4M337.2 186.7v4.4"/>
<path d="M337.7 179.4h4.4M339.9 177.2v4.4"/>
<path d="M335.6 166.6h4.4M337.8 164.4v4.4"/>
<path d="M337.2 188.3h4.4M339.4 186.1v4.4"/>
<path d="M335.5 181.5h4.4M337.7 179.3v4.4"/>
<path d="M334.7 172.8h4.4M336.9 170.6v4.4"/>
<path d="M336.6 178.2h4.4M338.8 176v4.4"/>
<path d="M335.7 171.4h4.4M337.9 169.2v4.4"/>
<path d="M334.9 167.8h4.4M337.1 165.6v4.4"/>
<path d="M335.8 180.2h4.4M338 178v4.4"/>
<path d="M336.1 186.1h4.4M338.3 183.9v4.4"/>
<path d="M335.2 180.3h4.4M337.4 178.1v4.4"/>
<path d="M336 176.2h4.4M338.2 174v4.4"/>
<path d="M338.1 175.7h4.4M340.3 173.5v4.4"/>
<path d="M335.2 183.4h4.4M337.4 181.2v4.4"/>
<path d="M335.9 193.7h4.4M338.1 191.5v4.4"/>
<path d="M334.1 168.4h4.4M336.3 166.2v4.4"/>
<path d="M335.1 174.9h4.4M337.3 172.7v4.4"/>
<path d="M336.6 175.2h4.4M338.8 173v4.4"/>
<path d="M335.1 177.1h4.4M337.3 174.9v4.4"/>
<path d="M334 184.9h4.4M336.2 182.7v4.4"/>
<path d="M335.8 172h4.4M338 169.8v4.4"/>
<path d="M333.7 178.7h4.4M335.9 176.5v4.4"/>
<path d="M336 165.9h4.4M338.2 163.7v4.4"/>
<path d="M334.6 193.8h4.4M336.8 191.6v4.4"/>
<path d="M334.7 179.2h4.4M336.9 177v4.4"/>
<path d="M334.9 170.2h4.4M337.1 168v4.4"/>
<path d="M334.9 184.3h4.4M337.1 182.1v4.4"/>
<path d="M334.8 183.4h4.4M337 181.2v4.4"/>
<path d="M335.3 181.5h4.4M337.5 179.3v4.4"/>
<path d="M336.1 179.5h4.4M338.3 177.3v4.4"/>
<path d="M336.2 201.1h4.4M338.4 198.9v4.4"/>
<path d="M334.4 200.6h4.4M336.6 198.4v4.4"/>
<path d="M334.9 199h4.4M337.1 196.8v4.4"/>
<path d="M334.3 200.1h4.4M336.5 197.9v4.4"/>
<path d="M336.5 203.7h4.4M338.7 201.5v4.4"/>
<path d="M335.2 200.9h4.4M337.4 198.7v4.4"/>
<path d="M335.1 203.4h4.4M337.3 201.2v4.4"/>
<path d="M335.5 201.6h4.4M337.7 199.4v4.4"/>
<path d="M334.6 202.5h4.4M336.8 200.3v4.4"/>
<path d="M332.8 195.1h4.4M335 192.9v4.4"/>
<path d="M378.9 155.5h4.4M381.1 153.3v4.4"/>
<path d="M370.4 157.6h4.4M372.6 155.4v4.4"/>
<path d="M379.1 163h4.4M381.3 160.8v4.4"/>
<path d="M379.4 166h4.4M381.6 163.8v4.4"/>
<path d="M380.3 176h4.4M382.5 173.8v4.4"/>
<path d="M379.8 178.2h4.4M382 176v4.4"/>
<path d="M378.9 167.3h4.4M381.1 165.1v4.4"/>
<path d="M379 167.9h4.4M381.2 165.7v4.4"/>
<path d="M379.1 169.1h4.4M381.3 166.9v4.4"/>
<path d="M381.8 170.6h4.4M384 168.4v4.4"/>
<path d="M377.6 179.9h4.4M379.8 177.7v4.4"/>
<path d="M380.4 177.3h4.4M382.6 175.1v4.4"/>
<path d="M378.7 176.5h4.4M380.9 174.3v4.4"/>
<path d="M377.3 168.2h4.4M379.5 166v4.4"/>
<path d="M379 178.2h4.4M381.2 176v4.4"/>
<path d="M379.7 176.1h4.4M381.9 173.9v4.4"/>
<path d="M377.7 169.6h4.4M379.9 167.4v4.4"/>
<path d="M379.9 170.7h4.4M382.1 168.5v4.4"/>
<path d="M378.3 176h4.4M380.5 173.8v4.4"/>
<path d="M379.9 169.9h4.4M382.1 167.7v4.4"/>
<path d="M378.9 173.6h4.4M381.1 171.4v4.4"/>
<path d="M379.2 167.3h4.4M381.4 165.1v4.4"/>
<path d="M377.9 171.6h4.4M380.1 169.4v4.4"/>
<path d="M378.5 171.5h4.4M380.7 169.3v4.4"/>
<path d="M378.7 173.8h4.4M380.9 171.6v4.4"/>
<path d="M376.7 178.9h4.4M378.9 176.7v4.4"/>
<path d="M379.2 169.6h4.4M381.4 167.4v4.4"/>
<path d="M380.3 171.6h4.4M382.5 169.4v4.4"/>
<path d="M380 175.3h4.4M382.2 173.1v4.4"/>
<path d="M379.6 171.9h4.4M381.8 169.7v4.4"/>
<path d="M380.9 167h4.4M383.1 164.8v4.4"/>
<path d="M377.4 170.3h4.4M379.6 168.1v4.4"/>
<path d="M379 192.5h4.4M381.2 190.3v4.4"/>
<path d="M380.1 195.5h4.4M382.3 193.3v4.4"/>
<path d="M377.3 193.6h4.4M379.5 191.4v4.4"/>
<path d="M380.2 188.7h4.4M382.4 186.5v4.4"/>
<path d="M379 182h4.4M381.2 179.8v4.4"/>
<path d="M379.6 190.2h4.4M381.8 188v4.4"/>
<path d="M380.7 187.8h4.4M382.9 185.6v4.4"/>
<path d="M379.9 183.7h4.4M382.1 181.5v4.4"/>
<path d="M380.9 190.8h4.4M383.1 188.6v4.4"/>
<path d="M382.7 190.1h4.4M384.9 187.9v4.4"/>
<path d="M379.5 184h4.4M381.7 181.8v4.4"/>
<path d="M378.3 195.4h4.4M380.5 193.2v4.4"/>
<path d="M379.2 195.6h4.4M381.4 193.4v4.4"/>
<path d="M378.4 194.5h4.4M380.6 192.3v4.4"/>
<path d="M378.3 187.4h4.4M380.5 185.2v4.4"/>
<path d="M379 181.3h4.4M381.2 179.1v4.4"/>
<path d="M378.5 191h4.4M380.7 188.8v4.4"/>
<path d="M379.6 182h4.4M381.8 179.8v4.4"/>
<path d="M379.1 185h4.4M381.3 182.8v4.4"/>
<path d="M378.8 185.1h4.4M381 182.9v4.4"/>
<path d="M379.4 186h4.4M381.6 183.8v4.4"/>
<path d="M379.2 187.4h4.4M381.4 185.2v4.4"/>
<path d="M379 184.5h4.4M381.2 182.3v4.4"/>
<path d="M378.9 186.6h4.4M381.1 184.4v4.4"/>
<path d="M378.1 199.9h4.4M380.3 197.7v4.4"/>
<path d="M376.4 180.7h4.4M378.6 178.5v4.4"/>
<path d="M380.2 187.8h4.4M382.4 185.6v4.4"/>
<path d="M377.7 181.5h4.4M379.9 179.3v4.4"/>
<path d="M379.2 188.7h4.4M381.4 186.5v4.4"/>
<path d="M380 196.6h4.4M382.2 194.4v4.4"/>
<path d="M380.7 197.8h4.4M382.9 195.6v4.4"/>
<path d="M377.4 193.2h4.4M379.6 191v4.4"/>
<path d="M379.8 184.9h4.4M382 182.7v4.4"/>
<path d="M378.3 197.3h4.4M380.5 195.1v4.4"/>
<path d="M380.4 199.6h4.4M382.6 197.4v4.4"/>
<path d="M380.2 192.5h4.4M382.4 190.3v4.4"/>
<path d="M378.6 182.6h4.4M380.8 180.4v4.4"/>
<path d="M379.9 194.3h4.4M382.1 192.1v4.4"/>
<path d="M381.4 193.1h4.4M383.6 190.9v4.4"/>
<path d="M378.4 180.4h4.4M380.6 178.2v4.4"/>
<path d="M380.1 186.7h4.4M382.3 184.5v4.4"/>
<path d="M379.5 193.4h4.4M381.7 191.2v4.4"/>
<path d="M378.1 190.9h4.4M380.3 188.7v4.4"/>
<path d="M382.5 182.3h4.4M384.7 180.1v4.4"/>
<path d="M380.8 180.5h4.4M383 178.3v4.4"/>
<path d="M378.6 187.4h4.4M380.8 185.2v4.4"/>
<path d="M379.8 188.3h4.4M382 186.1v4.4"/>
<path d="M380 190.5h4.4M382.2 188.3v4.4"/>
<path d="M379.2 188.7h4.4M381.4 186.5v4.4"/>
<path d="M378.5 199.4h4.4M380.7 197.2v4.4"/>
<path d="M377 187.9h4.4M379.2 185.7v4.4"/>
<path d="M380 185.6h4.4M382.2 183.4v4.4"/>
<path d="M379.5 197.5h4.4M381.7 195.3v4.4"/>
<path d="M379.2 188.8h4.4M381.4 186.6v4.4"/>
<path d="M380.2 190.4h4.4M382.4 188.2v4.4"/>
<path d="M379.4 198.8h4.4M381.6 196.6v4.4"/>
<path d="M380.2 188.3h4.4M382.4 186.1v4.4"/>
<path d="M378.7 188.9h4.4M380.9 186.7v4.4"/>
<path d="M380.2 194.2h4.4M382.4 192v4.4"/>
<path d="M378.9 198.5h4.4M381.1 196.3v4.4"/>
<path d="M381.6 180.4h4.4M383.8 178.2v4.4"/>
<path d="M380.2 182.5h4.4M382.4 180.3v4.4"/>
<path d="M379.3 184.4h4.4M381.5 182.2v4.4"/>
<path d="M378.9 181.8h4.4M381.1 179.6v4.4"/>
<path d="M379.2 196.4h4.4M381.4 194.2v4.4"/>
<path d="M379.4 185h4.4M381.6 182.8v4.4"/>
<path d="M379.1 194.8h4.4M381.3 192.6v4.4"/>
<path d="M376.9 198.9h4.4M379.1 196.7v4.4"/>
<path d="M378.5 182h4.4M380.7 179.8v4.4"/>
<path d="M379.1 193.9h4.4M381.3 191.7v4.4"/>
<path d="M378.7 189.9h4.4M380.9 187.7v4.4"/>
<path d="M378.8 188.7h4.4M381 186.5v4.4"/>
<path d="M378.7 185.5h4.4M380.9 183.3v4.4"/>
<path d="M378.2 181.7h4.4M380.4 179.5v4.4"/>
<path d="M379.3 182.3h4.4M381.5 180.1v4.4"/>
<path d="M378.2 190.1h4.4M380.4 187.9v4.4"/>
<path d="M379.8 197.9h4.4M382 195.7v4.4"/>
<path d="M382.9 199.6h4.4M385.1 197.4v4.4"/>
<path d="M379.1 185.1h4.4M381.3 182.9v4.4"/>
<path d="M380.3 192.2h4.4M382.5 190v4.4"/>
<path d="M379.3 196.2h4.4M381.5 194v4.4"/>
<path d="M379.8 181.6h4.4M382 179.4v4.4"/>
<path d="M379.8 192.3h4.4M382 190.1v4.4"/>
<path d="M381.1 189.3h4.4M383.3 187.1v4.4"/>
<path d="M380.6 182.1h4.4M382.8 179.9v4.4"/>
<path d="M380.2 193h4.4M382.4 190.8v4.4"/>
<path d="M379.6 199.2h4.4M381.8 197v4.4"/>
<path d="M378.5 188.5h4.4M380.7 186.3v4.4"/>
<path d="M377 193h4.4M379.2 190.8v4.4"/>
<path d="M380.7 191.4h4.4M382.9 189.2v4.4"/>
<path d="M382.7 199.3h4.4M384.9 197.1v4.4"/>
<path d="M379.9 199.9h4.4M382.1 197.7v4.4"/>
<path d="M378.4 194.9h4.4M380.6 192.7v4.4"/>
<path d="M380.2 198.8h4.4M382.4 196.6v4.4"/>
<path d="M378.5 195.7h4.4M380.7 193.5v4.4"/>
<path d="M380.2 186.2h4.4M382.4 184v4.4"/>
<path d="M376.5 196.9h4.4M378.7 194.7v4.4"/>
<path d="M378.9 183.4h4.4M381.1 181.2v4.4"/>
<path d="M379.1 186.7h4.4M381.3 184.5v4.4"/>
<path d="M379.8 183.1h4.4M382 180.9v4.4"/>
<path d="M382.2 186.6h4.4M384.4 184.4v4.4"/>
<path d="M379.2 186.1h4.4M381.4 183.9v4.4"/>
<path d="M379.4 188.7h4.4M381.6 186.5v4.4"/>
<path d="M379.3 180.3h4.4M381.5 178.1v4.4"/>
<path d="M379.3 199.2h4.4M381.5 197v4.4"/>
<path d="M380.2 185.1h4.4M382.4 182.9v4.4"/>
<path d="M380.7 191.6h4.4M382.9 189.4v4.4"/>
<path d="M380 184.9h4.4M382.2 182.7v4.4"/>
<path d="M379 199.8h4.4M381.2 197.6v4.4"/>
<path d="M381.6 182.5h4.4M383.8 180.3v4.4"/>
<path d="M379.6 196.2h4.4M381.8 194v4.4"/>
<path d="M380.4 191h4.4M382.6 188.8v4.4"/>
<path d="M380.8 185.3h4.4M383 183.1v4.4"/>
<path d="M377 183.8h4.4M379.2 181.6v4.4"/>
<path d="M378.1 192.6h4.4M380.3 190.4v4.4"/>
<path d="M378.1 198.4h4.4M380.3 196.2v4.4"/>
<path d="M378.8 198.6h4.4M381 196.4v4.4"/>
<path d="M378.9 182h4.4M381.1 179.8v4.4"/>
<path d="M376 192.9h4.4M378.2 190.7v4.4"/>
<path d="M377.7 198.7h4.4M379.9 196.5v4.4"/>
<path d="M379.6 195.2h4.4M381.8 193v4.4"/>
<path d="M379.7 182.2h4.4M381.9 180v4.4"/>
<path d="M378.2 193.7h4.4M380.4 191.5v4.4"/>
<path d="M378.7 182.6h4.4M380.9 180.4v4.4"/>
<path d="M379.4 199h4.4M381.6 196.8v4.4"/>
<path d="M378.7 188.9h4.4M380.9 186.7v4.4"/>
<path d="M379 199.4h4.4M381.2 197.2v4.4"/>
<path d="M381 181.5h4.4M383.2 179.3v4.4"/>
<path d="M379.5 188.2h4.4M381.7 186v4.4"/>
<path d="M379.7 188.3h4.4M381.9 186.1v4.4"/>
<path d="M378.4 184.8h4.4M380.6 182.6v4.4"/>
<path d="M378.2 189.8h4.4M380.4 187.6v4.4"/>
<path d="M377.9 186.5h4.4M380.1 184.3v4.4"/>
<path d="M379.2 199.9h4.4M381.4 197.7v4.4"/>
<path d="M379.4 181.9h4.4M381.6 179.7v4.4"/>
<path d="M378 204.2h4.4M380.2 202v4.4"/>
<path d="M375.6 208.4h4.4M377.8 206.2v4.4"/>
<path d="M378.9 205.8h4.4M381.1 203.6v4.4"/>
<path d="M379.7 206.2h4.4M381.9 204v4.4"/>
<path d="M377.8 205.4h4.4M380 203.2v4.4"/>
<path d="M379.4 201h4.4M381.6 198.8v4.4"/>
<path d="M380.8 208h4.4M383 205.8v4.4"/>
<path d="M380.6 208.7h4.4M382.8 206.5v4.4"/>
<path d="M380 207.6h4.4M382.2 205.4v4.4"/>
<path d="M377.8 202.8h4.4M380 200.6v4.4"/>
<path d="M379.3 208.3h4.4M381.5 206.1v4.4"/>
<path d="M380.2 203.8h4.4M382.4 201.6v4.4"/>
<path d="M378.4 207.6h4.4M380.6 205.4v4.4"/>
<path d="M380.9 209.3h4.4M383.1 207.1v4.4"/>
<path d="M379.7 209.1h4.4M381.9 206.9v4.4"/>
<path d="M379.3 204.6h4.4M381.5 202.4v4.4"/>
<path d="M378.1 207.3h4.4M380.3 205.1v4.4"/>
<path d="M378.1 206.3h4.4M380.3 204.1v4.4"/>
<path d="M380.6 207h4.4M382.8 204.8v4.4"/>
<path d="M379.4 208.8h4.4M381.6 206.6v4.4"/>
<path d="M378.5 207.9h4.4M380.7 205.7v4.4"/>
<path d="M377.1 202.4h4.4M379.3 200.2v4.4"/>
<path d="M377.3 202.3h4.4M379.5 200.1v4.4"/>
<path d="M378.9 203.3h4.4M381.1 201.1v4.4"/>
<path d="M380.4 209.5h4.4M382.6 207.3v4.4"/>
<path d="M379 205.2h4.4M381.2 203v4.4"/>
<path d="M380.2 203.5h4.4M382.4 201.3v4.4"/>
<path d="M381 207.7h4.4M383.2 205.5v4.4"/>
<path d="M377.7 200.2h4.4M379.9 198v4.4"/>
<path d="M379.5 201.6h4.4M381.7 199.4v4.4"/>
<path d="M379.8 204h4.4M382 201.8v4.4"/>
<path d="M379.2 203.3h4.4M381.4 201.1v4.4"/>
<path d="M379 201.3h4.4M381.2 199.1v4.4"/>
<path d="M377.4 201.2h4.4M379.6 199v4.4"/>
<path d="M379.9 205.1h4.4M382.1 202.9v4.4"/>
<path d="M376.8 202.2h4.4M379 200v4.4"/>
<path d="M380.7 208.1h4.4M382.9 205.9v4.4"/>
<path d="M379.3 208.3h4.4M381.5 206.1v4.4"/>
<path d="M377.4 207.7h4.4M379.6 205.5v4.4"/>
<path d="M378.3 209.8h4.4M380.5 207.6v4.4"/>
<path d="M378.4 208.3h4.4M380.6 206.1v4.4"/>
<path d="M381.4 206.8h4.4M383.6 204.6v4.4"/>
<path d="M379.3 205.7h4.4M381.5 203.5v4.4"/>
<path d="M381.2 201.4h4.4M383.4 199.2v4.4"/>
<path d="M379 208.9h4.4M381.2 206.7v4.4"/>
<path d="M377.2 201.2h4.4M379.4 199v4.4"/>
<path d="M379.8 207.7h4.4M382 205.5v4.4"/>
<path d="M380 207.7h4.4M382.2 205.5v4.4"/>
<path d="M379.8 208.2h4.4M382 206v4.4"/>
<path d="M379.7 208.8h4.4M381.9 206.6v4.4"/>
<path d="M381.2 200.7h4.4M383.4 198.5v4.4"/>
<path d="M379.9 200.8h4.4M382.1 198.6v4.4"/>
<path d="M377.9 206.6h4.4M380.1 204.4v4.4"/>
<path d="M379.7 200.3h4.4M381.9 198.1v4.4"/>
<path d="M378.7 202.4h4.4M380.9 200.2v4.4"/>
<path d="M376.7 205.3h4.4M378.9 203.1v4.4"/>
<path d="M379 201.3h4.4M381.2 199.1v4.4"/>
<path d="M379.8 207.4h4.4M382 205.2v4.4"/>
<path d="M380 203.3h4.4M382.2 201.1v4.4"/>
<path d="M377.7 204.8h4.4M379.9 202.6v4.4"/>
<path d="M377.5 209.2h4.4M379.7 207v4.4"/>
<path d="M379.6 208.6h4.4M381.8 206.4v4.4"/>
<path d="M378.1 202.6h4.4M380.3 200.4v4.4"/>
<path d="M379.3 201.6h4.4M381.5 199.4v4.4"/>
<path d="M377.2 209.9h4.4M379.4 207.7v4.4"/>
<path d="M381.2 208.9h4.4M383.4 206.7v4.4"/>
<path d="M379.1 201.2h4.4M381.3 199v4.4"/>
<path d="M377.7 206.6h4.4M379.9 204.4v4.4"/>
<path d="M378.6 205.1h4.4M380.8 202.9v4.4"/>
<path d="M379.9 209.1h4.4M382.1 206.9v4.4"/>
<path d="M423.1 185.5h4.4M425.3 183.3v4.4"/>
<path d="M423.6 188h4.4M425.8 185.8v4.4"/>
<path d="M422.4 190.5h4.4M424.6 188.3v4.4"/>
<path d="M394.8 192h4.4M397 189.8v4.4"/>
<path d="M397.4 201.2h4.4M399.6 199v4.4"/>
<path d="M423.8 197.4h4.4M426 195.2v4.4"/>
<path d="M422.9 197.4h4.4M425.1 195.2v4.4"/>
<path d="M423.4 197h4.4M425.6 194.8v4.4"/>
<path d="M423.1 196.8h4.4M425.3 194.6v4.4"/>
<path d="M423.6 193h4.4M425.8 190.8v4.4"/>
<path d="M425.2 193.7h4.4M427.4 191.5v4.4"/>
<path d="M423 191.6h4.4M425.2 189.4v4.4"/>
<path d="M422.8 197.8h4.4M425 195.6v4.4"/>
<path d="M420.7 193h4.4M422.9 190.8v4.4"/>
<path d="M421.8 197.6h4.4M424 195.4v4.4"/>
<path d="M423.9 192.9h4.4M426.1 190.7v4.4"/>
<path d="M423.8 194.7h4.4M426 192.5v4.4"/>
<path d="M422.3 197.9h4.4M424.5 195.7v4.4"/>
<path d="M424.2 191.4h4.4M426.4 189.2v4.4"/>
<path d="M422.2 194.7h4.4M424.4 192.5v4.4"/>
<path d="M423.5 192.5h4.4M425.7 190.3v4.4"/>
<path d="M422.3 193.6h4.4M424.5 191.4v4.4"/>
<path d="M422.9 190.4h4.4M425.1 188.2v4.4"/>
<path d="M423.8 192.8h4.4M426 190.6v4.4"/>
<path d="M422.5 196.2h4.4M424.7 194v4.4"/>
<path d="M423.6 194.3h4.4M425.8 192.1v4.4"/>
<path d="M423.2 195.3h4.4M425.4 193.1v4.4"/>
<path d="M420.2 206.5h4.4M422.4 204.3v4.4"/>
<path d="M423.7 200.5h4.4M425.9 198.3v4.4"/>
<path d="M425.2 203.8h4.4M427.4 201.6v4.4"/>
<path d="M422.4 201h4.4M424.6 198.8v4.4"/>
<path d="M425.1 203.3h4.4M427.3 201.1v4.4"/>
<path d="M426 203.4h4.4M428.2 201.2v4.4"/>
<path d="M422.1 201h4.4M424.3 198.8v4.4"/>
<path d="M421.9 203.1h4.4M424.1 200.9v4.4"/>
<path d="M423.5 204h4.4M425.7 201.8v4.4"/>
<path d="M423.9 199.9h4.4M426.1 197.7v4.4"/>
<path d="M422.7 200.2h4.4M424.9 198v4.4"/>
<path d="M423.9 199.2h4.4M426.1 197v4.4"/>
<path d="M422.1 200.4h4.4M424.3 198.2v4.4"/>
<path d="M422 201.9h4.4M424.2 199.7v4.4"/>
<path d="M425.8 201.9h4.4M428 199.7v4.4"/>
<path d="M420.6 201.7h4.4M422.8 199.5v4.4"/>
<path d="M424.4 203.9h4.4M426.6 201.7v4.4"/>
<path d="M423.5 207.5h4.4M425.7 205.3v4.4"/>
<path d="M425 202.7h4.4M427.2 200.5v4.4"/>
<path d="M425.2 199.2h4.4M427.4 197v4.4"/>
<path d="M422.8 200.3h4.4M425 198.1v4.4"/>
<path d="M423.4 206.5h4.4M425.6 204.3v4.4"/>
<path d="M422.2 206.5h4.4M424.4 204.3v4.4"/>
<path d="M421.3 206.1h4.4M423.5 203.9v4.4"/>
<path d="M420.1 200.4h4.4M422.3 198.2v4.4"/>
<path d="M424.8 202.3h4.4M427 200.1v4.4"/>
<path d="M423.4 202.5h4.4M425.6 200.3v4.4"/>
<path d="M423.4 202.1h4.4M425.6 199.9v4.4"/>
<path d="M421.4 201.8h4.4M423.6 199.6v4.4"/>
<path d="M423.3 200.3h4.4M425.5 198.1v4.4"/>
<path d="M423.9 206.9h4.4M426.1 204.7v4.4"/>
<path d="M420.2 201.1h4.4M422.4 198.9v4.4"/>
<path d="M422.6 202.5h4.4M424.8 200.3v4.4"/>
<path d="M423.3 200.7h4.4M425.5 198.5v4.4"/>
<path d="M423 202.5h4.4M425.2 200.3v4.4"/>
<path d="M422.9 206.3h4.4M425.1 204.1v4.4"/>
<path d="M423.3 198.8h4.4M425.5 196.6v4.4"/>
<path d="M420.4 204h4.4M422.6 201.8v4.4"/>
<path d="M422.5 201h4.4M424.7 198.8v4.4"/>
<path d="M420.7 201.7h4.4M422.9 199.5v4.4"/>
<path d="M422.9 200.8h4.4M425.1 198.6v4.4"/>
<path d="M422.5 204.7h4.4M424.7 202.5v4.4"/>
<path d="M424.5 203.9h4.4M426.7 201.7v4.4"/>
<path d="M422.8 199.1h4.4M425 196.9v4.4"/>
<path d="M424.5 206.2h4.4M426.7 204v4.4"/>
<path d="M425.3 205.4h4.4M427.5 203.2v4.4"/>
<path d="M423.6 203.4h4.4M425.8 201.2v4.4"/>
<path d="M423.1 205.6h4.4M425.3 203.4v4.4"/>
<path d="M422.6 207.9h4.4M424.8 205.7v4.4"/>
<path d="M424.5 201.7h4.4M426.7 199.5v4.4"/>
<path d="M423.1 198.5h4.4M425.3 196.3v4.4"/>
<path d="M421.8 201.8h4.4M424 199.6v4.4"/>
<path d="M427.4 200.5h4.4M429.6 198.3v4.4"/>
<path d="M424.7 202.7h4.4M426.9 200.5v4.4"/>
<path d="M422.6 204.1h4.4M424.8 201.9v4.4"/>
<path d="M419.6 204.9h4.4M421.8 202.7v4.4"/>
<path d="M426.5 203.2h4.4M428.7 201v4.4"/>
<path d="M423 202.9h4.4M425.2 200.7v4.4"/>
<path d="M424.3 201.3h4.4M426.5 199.1v4.4"/>
<path d="M423.3 203.8h4.4M425.5 201.6v4.4"/>
<path d="M422.5 203.5h4.4M424.7 201.3v4.4"/>
<path d="M423.7 204.3h4.4M425.9 202.1v4.4"/>
<path d="M421.4 201.2h4.4M423.6 199v4.4"/>
<path d="M422.4 205.5h4.4M424.6 203.3v4.4"/>
<path d="M423.5 198.4h4.4M425.7 196.2v4.4"/>
<path d="M420.9 207.3h4.4M423.1 205.1v4.4"/>
<path d="M423.7 199.3h4.4M425.9 197.1v4.4"/>
<path d="M421.5 202.9h4.4M423.7 200.7v4.4"/>
<path d="M425.6 206.5h4.4M427.8 204.3v4.4"/>
<path d="M422.5 201.8h4.4M424.7 199.6v4.4"/>
<path d="M426.5 200.1h4.4M428.7 197.9v4.4"/>
<path d="M425.8 203.3h4.4M428 201.1v4.4"/>
<path d="M423.3 205.7h4.4M425.5 203.5v4.4"/>
<path d="M423.9 200.4h4.4M426.1 198.2v4.4"/>
<path d="M420.4 202.5h4.4M422.6 200.3v4.4"/>
<path d="M424 205.9h4.4M426.2 203.7v4.4"/>
<path d="M418.5 205.8h4.4M420.7 203.6v4.4"/>
<path d="M424.2 206.3h4.4M426.4 204.1v4.4"/>
<path d="M424.5 203h4.4M426.7 200.8v4.4"/>
<path d="M423.9 203.5h4.4M426.1 201.3v4.4"/>
<path d="M422 202.2h4.4M424.2 200v4.4"/>
<path d="M423.3 201.4h4.4M425.5 199.2v4.4"/>
<path d="M420.5 198.9h4.4M422.7 196.7v4.4"/>
<path d="M424 203.8h4.4M426.2 201.6v4.4"/>
<path d="M423.3 199.6h4.4M425.5 197.4v4.4"/>
<path d="M424.6 201.5h4.4M426.8 199.3v4.4"/>
<path d="M419.5 206.4h4.4M421.7 204.2v4.4"/>
<path d="M420.5 208.1h4.4M422.7 205.9v4.4"/>
<path d="M424 201.4h4.4M426.2 199.2v4.4"/>
<path d="M419 200.7h4.4M421.2 198.5v4.4"/>
<path d="M425.7 205.9h4.4M427.9 203.7v4.4"/>
<path d="M423.6 198.2h4.4M425.8 196v4.4"/>
<path d="M422.4 201.8h4.4M424.6 199.6v4.4"/>
<path d="M423.9 202.2h4.4M426.1 200v4.4"/>
<path d="M423.7 198.4h4.4M425.9 196.2v4.4"/>
<path d="M422 206.1h4.4M424.2 203.9v4.4"/>
<path d="M420.6 204.8h4.4M422.8 202.6v4.4"/>
<path d="M427.1 204.1h4.4M429.3 201.9v4.4"/>
<path d="M420.7 205.6h4.4M422.9 203.4v4.4"/>
<path d="M419.9 203.3h4.4M422.1 201.1v4.4"/>
<path d="M422.4 205.6h4.4M424.6 203.4v4.4"/>
<path d="M425.2 203h4.4M427.4 200.8v4.4"/>
<path d="M426.2 205h4.4M428.4 202.8v4.4"/>
<path d="M422.3 200h4.4M424.5 197.8v4.4"/>
<path d="M427.4 201.5h4.4M429.6 199.3v4.4"/>
<path d="M423.8 202.2h4.4M426 200v4.4"/>
<path d="M422.3 198.5h4.4M424.5 196.3v4.4"/>
<path d="M422.8 202.2h4.4M425 200v4.4"/>
<path d="M424.8 201.2h4.4M427 199v4.4"/>
<path d="M420.4 199.8h4.4M422.6 197.6v4.4"/>
<path d="M423 203.1h4.4M425.2 200.9v4.4"/>
<path d="M424.4 201.5h4.4M426.6 199.3v4.4"/>
<path d="M424 202.9h4.4M426.2 200.7v4.4"/>
<path d="M426.1 202.4h4.4M428.3 200.2v4.4"/>
<path d="M423.4 203.9h4.4M425.6 201.7v4.4"/>
<path d="M444.6 204.3h4.4M446.8 202.1v4.4"/>
<path d="M449 205.3h4.4M451.2 203.1v4.4"/>
<path d="M453.9 206.8h4.4M456.1 204.6v4.4"/>
<path d="M457.8 207.5h4.4M460 205.3v4.4"/>
<path d="M460.8 207h4.4M463 204.8v4.4"/>
<path d="M479.3 205h4.4M481.5 202.8v4.4"/>
<path d="M466.3 201.6h4.4M468.5 199.4v4.4"/>
<path d="M466.6 199.7h4.4M468.8 197.5v4.4"/>
<path d="M473 198h4.4M475.2 195.8v4.4"/>
<path d="M469.3 198.4h4.4M471.5 196.2v4.4"/>
<path d="M469.8 201.4h4.4M472 199.2v4.4"/>
<path d="M467.8 200h4.4M470 197.8v4.4"/>
<path d="M467.4 198.6h4.4M469.6 196.4v4.4"/>
<path d="M466.2 201.5h4.4M468.4 199.3v4.4"/>
<path d="M466 199.1h4.4M468.2 196.9v4.4"/>
<path d="M467.8 200.3h4.4M470 198.1v4.4"/>
<path d="M464.7 205.4h4.4M466.9 203.2v4.4"/>
<path d="M469.6 205.5h4.4M471.8 203.3v4.4"/>
<path d="M470.1 205.8h4.4M472.3 203.6v4.4"/>
<path d="M467.3 206.5h4.4M469.5 204.3v4.4"/>
<path d="M467.2 205.9h4.4M469.4 203.7v4.4"/>
<path d="M470.4 204.5h4.4M472.6 202.3v4.4"/>
<path d="M470.7 203.5h4.4M472.9 201.3v4.4"/>
<path d="M467.2 202.3h4.4M469.4 200.1v4.4"/>
<path d="M466.5 208.7h4.4M468.7 206.5v4.4"/>
<path d="M468.7 208h4.4M470.9 205.8v4.4"/>
<path d="M464.1 203.7h4.4M466.3 201.5v4.4"/>
<path d="M469 207.2h4.4M471.2 205v4.4"/>
<path d="M469.9 202.4h4.4M472.1 200.2v4.4"/>
<path d="M469.1 205.5h4.4M471.3 203.3v4.4"/>
<path d="M468.1 206.5h4.4M470.3 204.3v4.4"/>
<path d="M467.1 202.3h4.4M469.3 200.1v4.4"/>
<path d="M465.1 202.8h4.4M467.3 200.6v4.4"/>
<path d="M464.5 205.3h4.4M466.7 203.1v4.4"/>
<path d="M471.1 204.2h4.4M473.3 202v4.4"/>
<path d="M465.9 203.4h4.4M468.1 201.2v4.4"/>
<path d="M463.4 205.7h4.4M465.6 203.5v4.4"/>
<path d="M466.6 205.1h4.4M468.8 202.9v4.4"/>
<path d="M465.4 206.5h4.4M467.6 204.3v4.4"/>
<path d="M464.8 206.7h4.4M467 204.5v4.4"/>
<path d="M466.1 207.1h4.4M468.3 204.9v4.4"/>
<path d="M465.6 206.5h4.4M467.8 204.3v4.4"/>
<path d="M468.9 205.4h4.4M471.1 203.2v4.4"/>
<path d="M471.9 205.9h4.4M474.1 203.7v4.4"/>
<path d="M465.6 206.9h4.4M467.8 204.7v4.4"/>
<path d="M465.7 204.6h4.4M467.9 202.4v4.4"/>
<path d="M467.8 206h4.4M470 203.8v4.4"/>
<path d="M472.1 202.2h4.4M474.3 200v4.4"/>
<path d="M467.1 207.8h4.4M469.3 205.6v4.4"/>
<path d="M467.4 206.2h4.4M469.6 204v4.4"/>
<path d="M471.7 203.2h4.4M473.9 201v4.4"/>
<path d="M467.9 207.1h4.4M470.1 204.9v4.4"/>
<path d="M466.3 202.2h4.4M468.5 200v4.4"/>
<path d="M465.3 206h4.4M467.5 203.8v4.4"/>
<path d="M468.3 209.2h4.4M470.5 207v4.4"/>
<path d="M471.2 202.6h4.4M473.4 200.4v4.4"/>
<path d="M470.4 207.4h4.4M472.6 205.2v4.4"/>
<path d="M471.9 205.3h4.4M474.1 203.1v4.4"/>
<path d="M466.4 205.9h4.4M468.6 203.7v4.4"/>
<path d="M471.7 206.8h4.4M473.9 204.6v4.4"/>
<path d="M472.1 207.1h4.4M474.3 204.9v4.4"/>
<path d="M466.3 203.6h4.4M468.5 201.4v4.4"/>
<path d="M472.5 202.7h4.4M474.7 200.5v4.4"/>
<path d="M466.9 205h4.4M469.1 202.8v4.4"/>
<path d="M465.5 204.5h4.4M467.7 202.3v4.4"/>
<path d="M467.8 210.2h4.4M470 208v4.4"/>
<path d="M467.6 204.6h4.4M469.8 202.4v4.4"/>
<path d="M468.1 207.4h4.4M470.3 205.2v4.4"/>
<path d="M465.7 204.8h4.4M467.9 202.6v4.4"/>
<path d="M463.4 207h4.4M465.6 204.8v4.4"/>
<path d="M469.5 208.5h4.4M471.7 206.3v4.4"/>
<path d="M464.8 209.8h4.4M467 207.6v4.4"/>
<path d="M470 205.1h4.4M472.2 202.9v4.4"/>
<path d="M466.8 205h4.4M469 202.8v4.4"/>
<path d="M464.7 207.1h4.4M466.9 204.9v4.4"/>
<path d="M466.3 204.2h4.4M468.5 202v4.4"/>
<path d="M469.1 205.8h4.4M471.3 203.6v4.4"/>
<path d="M466.3 205.1h4.4M468.5 202.9v4.4"/>
<path d="M466.6 208.2h4.4M468.8 206v4.4"/>
<path d="M470.3 204.2h4.4M472.5 202v4.4"/>
<path d="M467.7 208.3h4.4M469.9 206.1v4.4"/>
<path d="M467.1 209h4.4M469.3 206.8v4.4"/>
<path d="M468.9 206.9h4.4M471.1 204.7v4.4"/>
<path d="M462.5 207.2h4.4M464.7 205v4.4"/>
<path d="M468.7 206.7h4.4M470.9 204.5v4.4"/>
<path d="M469 206.6h4.4M471.2 204.4v4.4"/>
<path d="M466.5 207.3h4.4M468.7 205.1v4.4"/>
<path d="M468 203.6h4.4M470.2 201.4v4.4"/>
<path d="M465.2 205.9h4.4M467.4 203.7v4.4"/>
<path d="M468.7 201.3h4.4M470.9 199.1v4.4"/>
<path d="M462.6 207.6h4.4M464.8 205.4v4.4"/>
<path d="M463.9 205.1h4.4M466.1 202.9v4.4"/>
<path d="M466.3 206.7h4.4M468.5 204.5v4.4"/>
<path d="M471.4 208.7h4.4M473.6 206.5v4.4"/>
<path d="M465.2 208h4.4M467.4 205.8v4.4"/>
<path d="M464.7 206.2h4.4M466.9 204v4.4"/>
<path d="M468.2 206.8h4.4M470.4 204.6v4.4"/>
<path d="M465.8 208.2h4.4M468 206v4.4"/>
<path d="M467.6 205.6h4.4M469.8 203.4v4.4"/>
<path d="M467.1 203.5h4.4M469.3 201.3v4.4"/>
<path d="M469.6 206.3h4.4M471.8 204.1v4.4"/>
<path d="M469 209.2h4.4M471.2 207v4.4"/>
<path d="M465.6 205h4.4M467.8 202.8v4.4"/>
<path d="M467.8 207.3h4.4M470 205.1v4.4"/>
<path d="M467.3 207.4h4.4M469.5 205.2v4.4"/>
<path d="M469 202.2h4.4M471.2 200v4.4"/>
<path d="M466.1 201.7h4.4M468.3 199.5v4.4"/>
<path d="M467.1 204.8h4.4M469.3 202.6v4.4"/>
<path d="M469.3 205.9h4.4M471.5 203.7v4.4"/>
<path d="M467.6 208h4.4M469.8 205.8v4.4"/>
<path d="M469.3 203.2h4.4M471.5 201v4.4"/>
<path d="M466 206.2h4.4M468.2 204v4.4"/>
<path d="M472.1 205.2h4.4M474.3 203v4.4"/>
<path d="M467.4 206.1h4.4M469.6 203.9v4.4"/>
<path d="M469.8 205.4h4.4M472 203.2v4.4"/>
<path d="M468.5 204.8h4.4M470.7 202.6v4.4"/>
<path d="M466.4 204.1h4.4M468.6 201.9v4.4"/>
<path d="M469.5 204.5h4.4M471.7 202.3v4.4"/>
<path d="M469.2 206.4h4.4M471.4 204.2v4.4"/>
<path d="M470.3 200.4h4.4M472.5 198.2v4.4"/>
<path d="M465.3 203.2h4.4M467.5 201v4.4"/>
<path d="M467.4 207.2h4.4M469.6 205v4.4"/>
<path d="M474.2 208.6h4.4M476.4 206.4v4.4"/>
<path d="M471.2 206.3h4.4M473.4 204.1v4.4"/>
<path d="M466.8 206.6h4.4M469 204.4v4.4"/>
<path d="M462.3 207.4h4.4M464.5 205.2v4.4"/>
<path d="M467.8 206.8h4.4M470 204.6v4.4"/>
<path d="M465.2 203.5h4.4M467.4 201.3v4.4"/>
<path d="M466.2 205.5h4.4M468.4 203.3v4.4"/>
<path d="M468.7 204.9h4.4M470.9 202.7v4.4"/>
<path d="M468.7 206.9h4.4M470.9 204.7v4.4"/>
<path d="M464.9 205.4h4.4M467.1 203.2v4.4"/>
<path d="M463.8 204.5h4.4M466 202.3v4.4"/>
<path d="M470.1 204.2h4.4M472.3 202v4.4"/>
<path d="M472.5 206.6h4.4M474.7 204.4v4.4"/>
<path d="M470.1 205.8h4.4M472.3 203.6v4.4"/>
<path d="M470 207.7h4.4M472.2 205.5v4.4"/>
<path d="M468.1 204.6h4.4M470.3 202.4v4.4"/>
<path d="M466.4 209.4h4.4M468.6 207.2v4.4"/>
<path d="M467.3 204.7h4.4M469.5 202.5v4.4"/>
<path d="M466 202.3h4.4M468.2 200.1v4.4"/>
<path d="M466.5 206.2h4.4M468.7 204v4.4"/>
<path d="M466.6 204.1h4.4M468.8 201.9v4.4"/>
<path d="M468.8 206.5h4.4M471 204.3v4.4"/>
<path d="M466.7 206.2h4.4M468.9 204v4.4"/>
<path d="M465.3 207.3h4.4M467.5 205.1v4.4"/>
</g>
<g stroke="#262626" stroke-width="1" fill="none">
<circle cx="39.3" cy="140.9" r="2.1"/>
<circle cx="55.9" cy="160.3" r="2.1"/>
<circle cx="40.5" cy="173" r="2.1"/>
<circle cx="39.9" cy="180.4" r="2.1"/>
<circle cx="39.9" cy="183.4" r="2.1"/>
<circle cx="51.2" cy="180.7" r="2.1"/>
<circle cx="57.2" cy="169.9" r="2.1"/>
<circle cx="57.2" cy="173" r="2.1"/>
<circle cx="56.2" cy="186.5" r="2.1"/>
<circle cx="42" cy="194.5" r="2.1"/>
<circle cx="40" cy="199" r="2.1"/>
<circle cx="41.5" cy="202.7" r="2.1"/>
<circle cx="55.7" cy="186.9" r="2.1"/>
<circle cx="58.8" cy="190" r="2.1"/>
<circle cx="55.7" cy="193.7" r="2.1"/>
<circle cx="55.7" cy="207.7" r="2.1"/>
<circle cx="119.2" cy="193" r="2.1"/>
<circle cx="114.8" cy="201.9" r="2.1"/>
<circle cx="121.7" cy="207.2" r="2.1"/>
<circle cx="123.5" cy="204.1" r="2.1"/>
<circle cx="126" cy="204.8" r="2.1"/>
<circle cx="300.1" cy="174.6" r="2.1"/>
<circle cx="311.2" cy="170.5" r="2.1"/>
<circle cx="299.9" cy="189.2" r="2.1"/>
<circle cx="299.9" cy="194.1" r="2.1"/>
<circle cx="299.9" cy="198.4" r="2.1"/>
<circle cx="300.3" cy="198.9" r="2.1"/>
<circle cx="299.9" cy="201.5" r="2.1"/>
<circle cx="299.9" cy="205.8" r="2.1"/>
<circle cx="302.3" cy="200.3" r="2.1"/>
<circle cx="315.9" cy="194.1" r="2.1"/>
<circle cx="315.9" cy="198.4" r="2.1"/>
<circle cx="315.9" cy="202.1" r="2.1"/>
<circle cx="316.2" cy="205.8" r="2.1"/>
<circle cx="315.9" cy="208.9" r="2.1"/>
<circle cx="371.9" cy="207" r="2.1"/>
<circle cx="376.3" cy="203" r="2.1"/>
<circle cx="381.1" cy="205" r="2.1"/>
<circle cx="381.1" cy="207.6" r="2.1"/>
<circle cx="384" cy="206" r="2.1"/>
<circle cx="383" cy="196" r="2.1"/>
<circle cx="382" cy="201" r="2.1"/>
<path d="M33 198.7L35.4 202.7H30.6Z"/>
<path d="M33.6 202.2L36 206.2H31.2Z"/>
<path d="M32.8 205.2L35.2 209.2H30.4Z"/>
<path d="M42 188.2L44.4 192.2H39.6Z"/>
<path d="M42.8 202.7L45.2 206.7H40.4Z"/>
<path d="M44 205.2L46.4 209.2H41.6Z"/>
<path d="M51.7 198.8L54.1 202.8H49.3Z"/>
<path d="M56.3 197.6L58.7 201.6H53.9Z"/>
<path d="M59.8 199.5L62.2 203.5H57.4Z"/>
<path d="M45.2 205L47.6 209H42.8Z"/>
<path d="M33 200.7L35.4 204.7H30.6Z"/>
<path d="M121.7 193.8L124.1 197.8H119.3Z"/>
<path d="M124.8 193.2L127.2 197.2H122.4Z"/>
<path d="M121.7 195L124.1 199H119.3Z"/>
<path d="M315.3 172.5L317.7 176.5H312.9Z"/>
<path d="M299.3 186.1L301.7 190.1H296.9Z"/>
<path d="M304.8 206.6L307.2 210.6H302.4Z"/>
<path d="M300 204.7L302.4 208.7H297.6Z"/>
<path d="M310.4 196.1L312.8 200.1H308Z"/>
<path d="M319.6 203.5L322 207.5H317.2Z"/>
<path d="M293.1 205.2L295.5 209.2H290.7Z"/>
<path d="M293.4 207.7L295.8 211.7H291Z"/>
<path d="M378.5 183.6L380.9 187.6H376.1Z"/>
</g>
<g stroke="#000" stroke-opacity="0.22" stroke-width="0.75" fill="none">
<path d="M31.3 85.5l4 4M31.3 89.5l4 -4"/>
<path d="M53.8 85.5l4 4M53.8 89.5l4 -4"/>
<path d="M78.8 105.5l4 4M78.8 109.5l4 -4"/>
<path d="M31.3 204l4 4M31.3 208l4 -4"/>
<path d="M32 206l4 4M32 210l4 -4"/>
<path d="M291 206l4 4M291 210l4 -4"/>
<path d="M292 205l4 4M292 209l4 -4"/>
</g>
</g>
<rect x="23.6" y="41.8" width="211.9" height="177.89999999999998" fill="none" stroke="#999999" stroke-width="1.6"/>
<path d="M21.1 207.2H23.6" stroke="#999999" stroke-width="0.9"/>
<text x="20.9" y="211.1" text-anchor="end" class="tk">0</text>
<path d="M21.1 169H23.6" stroke="#999999" stroke-width="0.9"/>
<text x="20.9" y="172.9" text-anchor="end" class="tk" textLength="10" lengthAdjust="spacingAndGlyphs">20</text>
<path d="M21.1 130.8H23.6" stroke="#999999" stroke-width="0.9"/>
<text x="20.9" y="134.7" text-anchor="end" class="tk" textLength="10" lengthAdjust="spacingAndGlyphs">40</text>
<path d="M21.1 92.5H23.6" stroke="#999999" stroke-width="0.9"/>
<text x="20.9" y="96.4" text-anchor="end" class="tk" textLength="10" lengthAdjust="spacingAndGlyphs">60</text>
<path d="M21.1 54.3H23.6" stroke="#999999" stroke-width="0.9"/>
<text x="20.9" y="58.2" text-anchor="end" class="tk" textLength="10" lengthAdjust="spacingAndGlyphs">80</text>
<path d="M33.3 219.7v2.5" stroke="#999999" stroke-width="0.9"/>
<text x="33.3" y="229.9" text-anchor="middle" class="tk">0</text>
<path d="M78.6 219.7v2.5" stroke="#999999" stroke-width="0.9"/>
<text x="78.6" y="229.9" text-anchor="middle" class="tk">2</text>
<path d="M123.9 219.7v2.5" stroke="#999999" stroke-width="0.9"/>
<text x="123.9" y="229.9" text-anchor="middle" class="tk">4</text>
<path d="M169.2 219.7v2.5" stroke="#999999" stroke-width="0.9"/>
<text x="169.2" y="229.9" text-anchor="middle" class="tk">6</text>
<path d="M214.5 219.7v2.5" stroke="#999999" stroke-width="0.9"/>
<text x="214.5" y="229.9" text-anchor="middle" class="tk">8</text>
<rect x="284" y="43.3" width="206.7" height="177.8" fill="none" stroke="#999999" stroke-width="1.6"/>
<path d="M281.5 209.2H284" stroke="#999999" stroke-width="0.9"/>
<text x="281.2" y="213.1" text-anchor="end" class="tk" textLength="16.2" lengthAdjust="spacingAndGlyphs">0.00</text>
<path d="M281.5 167.8H284" stroke="#999999" stroke-width="0.9"/>
<text x="281.2" y="171.7" text-anchor="end" class="tk" textLength="16.2" lengthAdjust="spacingAndGlyphs">0.05</text>
<path d="M281.5 126.5H284" stroke="#999999" stroke-width="0.9"/>
<text x="281.2" y="130.4" text-anchor="end" class="tk" textLength="16.2" lengthAdjust="spacingAndGlyphs">0.10</text>
<path d="M281.5 85.1H284" stroke="#999999" stroke-width="0.9"/>
<text x="281.2" y="89" text-anchor="end" class="tk" textLength="16.2" lengthAdjust="spacingAndGlyphs">0.15</text>
<path d="M281.5 43.8H284" stroke="#999999" stroke-width="0.9"/>
<text x="281.2" y="47.7" text-anchor="end" class="tk" textLength="16.2" lengthAdjust="spacingAndGlyphs">0.20</text>
<path d="M293.2 221.1v2.5" stroke="#999999" stroke-width="0.9"/>
<text x="293.2" y="231.3" text-anchor="middle" class="tk">0</text>
<path d="M337.1 221.1v2.5" stroke="#999999" stroke-width="0.9"/>
<text x="337.1" y="231.3" text-anchor="middle" class="tk">2</text>
<path d="M381 221.1v2.5" stroke="#999999" stroke-width="0.9"/>
<text x="381" y="231.3" text-anchor="middle" class="tk">4</text>
<path d="M424.9 221.1v2.5" stroke="#999999" stroke-width="0.9"/>
<text x="424.9" y="231.3" text-anchor="middle" class="tk">6</text>
<path d="M468.8 221.1v2.5" stroke="#999999" stroke-width="0.9"/>
<text x="468.8" y="231.3" text-anchor="middle" class="tk">8</text>
<g class="lg">
<circle cx="35.5" cy="10.5" r="2.8" fill="none" stroke="#333" stroke-width="0.9"/>
<text x="46" y="14.3" textLength="50.5" lengthAdjust="spacingAndGlyphs">TPIAT PK1</text>
<path d="M142.4 7.5L145.3 12.5H139.5Z" fill="none" stroke="#262626" stroke-width="1"/>
<text x="151" y="14.3" textLength="51" lengthAdjust="spacingAndGlyphs">TPIAT PK2</text>
<path d="M233.6 9.4h8.2M237.7 5.3v8.2" stroke="#555" stroke-width="0.8"/>
<text x="246" y="14.1" textLength="109.5" lengthAdjust="spacingAndGlyphs">HUSTLE naïve patients</text>
<path d="M386.1 6.2l5.8 5.8M386.1 12l5.8 -5.8" stroke="#444" stroke-width="0.85"/>
<text x="399.2" y="13.9" textLength="67" lengthAdjust="spacingAndGlyphs">HUSTLE MTD</text>
</g>
<text x="77.3" y="239.8" class="at" textLength="107.3" lengthAdjust="spacingAndGlyphs">Time after last dose (hour)</text>
<text x="333.5" y="241.4" class="at" textLength="107" lengthAdjust="spacingAndGlyphs">Time after last dose (hour)</text>
<text transform="translate(9.6,209.5) rotate(-90)" class="at yt" textLength="154" lengthAdjust="spacingAndGlyphs">Hydroxyurea concentration (ug/mL)</text>
<text transform="translate(262.2,216.3) rotate(-90)" class="at yt" textLength="166.4" lengthAdjust="spacingAndGlyphs">Hydroxyurea concentration (ug/mL/mg)</text>
<text x="292" y="38.6" class="ti" textLength="176.4" lengthAdjust="spacingAndGlyphs">Concentrations were normalized by dose</text>
</svg>
</body></html>
